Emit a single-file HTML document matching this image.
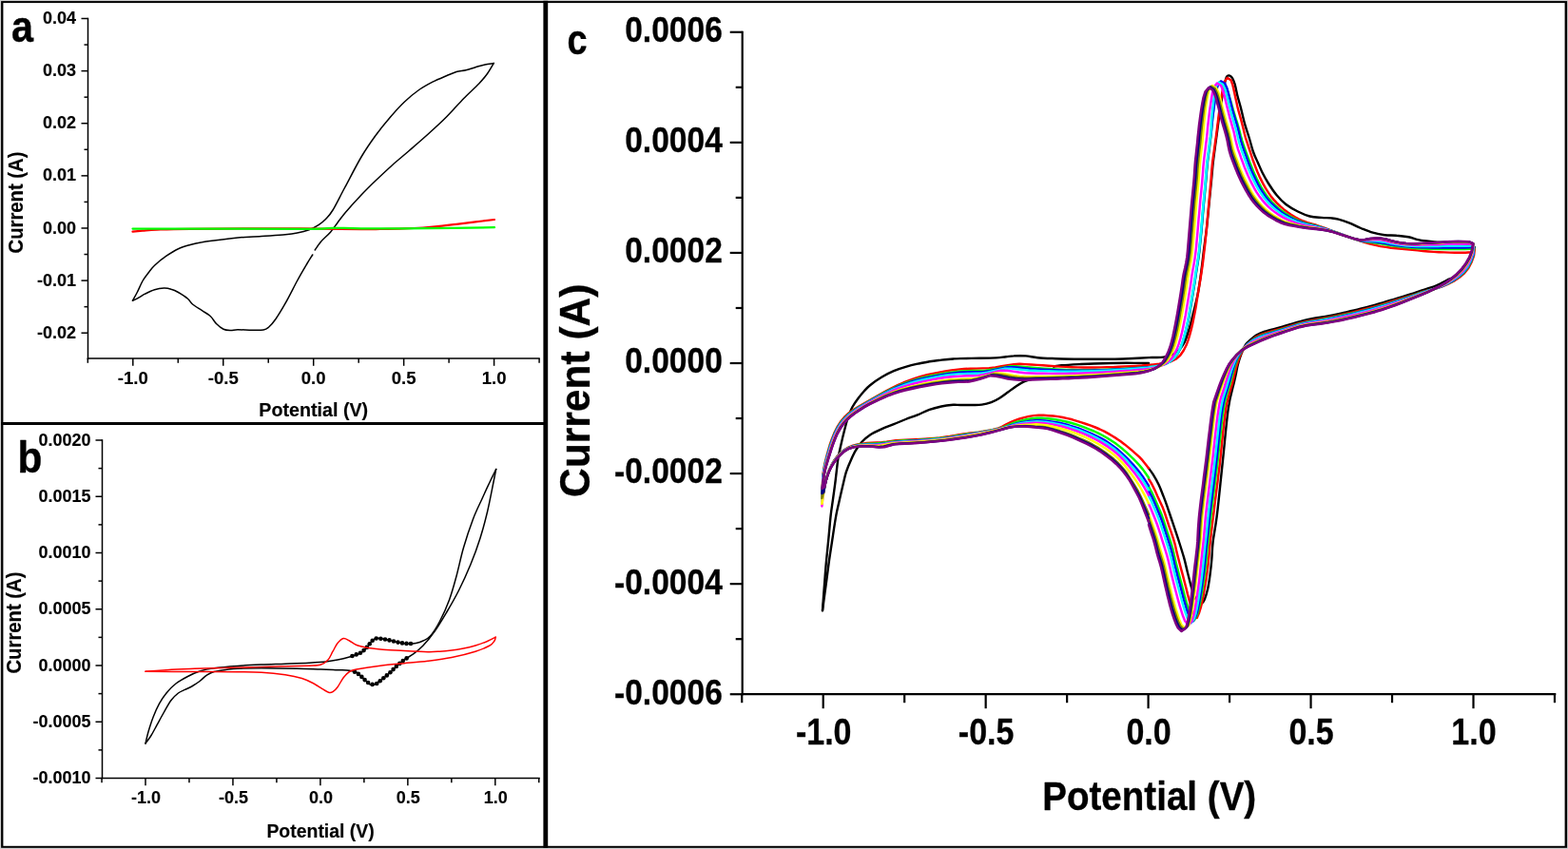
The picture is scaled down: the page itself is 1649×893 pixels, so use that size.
<!DOCTYPE html>
<html><head><meta charset="utf-8"><title>Cyclic voltammograms</title>
<style>
html,body{margin:0;padding:0;background:#fff;}
body{width:1649px;height:893px;overflow:hidden;}
svg{display:block;}
text{fill:#000;}
</style></head><body>
<svg width="1649" height="893" viewBox="0 0 1649 893">
<rect x="0" y="0" width="1649" height="893" fill="#fff"/>
<rect x="0.00" y="0.00" width="1649.00" height="893.00" fill="#cfcfcf"/>
<rect x="1.10" y="1.10" width="1647.00" height="890.70" fill="#000"/>
<rect x="3.40" y="3.10" width="1642.20" height="886.70" fill="#fff"/>
<rect x="571.40" y="0.80" width="4.80" height="891.00" fill="#000"/>
<rect x="1.10" y="444.00" width="572.00" height="3.00" fill="#000"/>
<line x1="92.50" y1="18.75" x2="92.50" y2="377.75" stroke="#000" stroke-width="1.5"/>
<line x1="91.75" y1="377.00" x2="567.75" y2="377.00" stroke="#000" stroke-width="1.5"/>
<line x1="85.50" y1="19.50" x2="92.50" y2="19.50" stroke="#000" stroke-width="1.5"/>
<line x1="88.50" y1="47.06" x2="92.50" y2="47.06" stroke="#000" stroke-width="1.5"/>
<line x1="85.50" y1="74.62" x2="92.50" y2="74.62" stroke="#000" stroke-width="1.5"/>
<line x1="88.50" y1="102.18" x2="92.50" y2="102.18" stroke="#000" stroke-width="1.5"/>
<line x1="85.50" y1="129.74" x2="92.50" y2="129.74" stroke="#000" stroke-width="1.5"/>
<line x1="88.50" y1="157.30" x2="92.50" y2="157.30" stroke="#000" stroke-width="1.5"/>
<line x1="85.50" y1="184.86" x2="92.50" y2="184.86" stroke="#000" stroke-width="1.5"/>
<line x1="88.50" y1="212.42" x2="92.50" y2="212.42" stroke="#000" stroke-width="1.5"/>
<line x1="85.50" y1="239.98" x2="92.50" y2="239.98" stroke="#000" stroke-width="1.5"/>
<line x1="88.50" y1="267.54" x2="92.50" y2="267.54" stroke="#000" stroke-width="1.5"/>
<line x1="85.50" y1="295.10" x2="92.50" y2="295.10" stroke="#000" stroke-width="1.5"/>
<line x1="88.50" y1="322.66" x2="92.50" y2="322.66" stroke="#000" stroke-width="1.5"/>
<line x1="85.50" y1="350.22" x2="92.50" y2="350.22" stroke="#000" stroke-width="1.5"/>
<line x1="139.80" y1="377.00" x2="139.80" y2="384.80" stroke="#000" stroke-width="1.5"/>
<line x1="234.75" y1="377.00" x2="234.75" y2="384.80" stroke="#000" stroke-width="1.5"/>
<line x1="329.70" y1="377.00" x2="329.70" y2="384.80" stroke="#000" stroke-width="1.5"/>
<line x1="424.65" y1="377.00" x2="424.65" y2="384.80" stroke="#000" stroke-width="1.5"/>
<line x1="519.60" y1="377.00" x2="519.60" y2="384.80" stroke="#000" stroke-width="1.5"/>
<line x1="92.33" y1="377.00" x2="92.33" y2="381.80" stroke="#000" stroke-width="1.5"/>
<line x1="187.28" y1="377.00" x2="187.28" y2="381.80" stroke="#000" stroke-width="1.5"/>
<line x1="282.23" y1="377.00" x2="282.23" y2="381.80" stroke="#000" stroke-width="1.5"/>
<line x1="377.18" y1="377.00" x2="377.18" y2="381.80" stroke="#000" stroke-width="1.5"/>
<line x1="472.12" y1="377.00" x2="472.12" y2="381.80" stroke="#000" stroke-width="1.5"/>
<line x1="567.08" y1="377.00" x2="567.08" y2="381.80" stroke="#000" stroke-width="1.5"/>
<text transform="translate(80.00 25.10)" font-size="18" font-weight="bold" text-anchor="end" stroke="#000" stroke-width="0.14" stroke-linejoin="round" style="font-family:'Liberation Sans', sans-serif">0.04</text>
<text transform="translate(80.00 80.22)" font-size="18" font-weight="bold" text-anchor="end" stroke="#000" stroke-width="0.14" stroke-linejoin="round" style="font-family:'Liberation Sans', sans-serif">0.03</text>
<text transform="translate(80.00 135.34)" font-size="18" font-weight="bold" text-anchor="end" stroke="#000" stroke-width="0.14" stroke-linejoin="round" style="font-family:'Liberation Sans', sans-serif">0.02</text>
<text transform="translate(80.00 190.46)" font-size="18" font-weight="bold" text-anchor="end" stroke="#000" stroke-width="0.14" stroke-linejoin="round" style="font-family:'Liberation Sans', sans-serif">0.01</text>
<text transform="translate(80.00 245.58)" font-size="18" font-weight="bold" text-anchor="end" stroke="#000" stroke-width="0.14" stroke-linejoin="round" style="font-family:'Liberation Sans', sans-serif">0.00</text>
<text transform="translate(80.00 300.70)" font-size="18" font-weight="bold" text-anchor="end" stroke="#000" stroke-width="0.14" stroke-linejoin="round" style="font-family:'Liberation Sans', sans-serif">-0.01</text>
<text transform="translate(80.00 355.82)" font-size="18" font-weight="bold" text-anchor="end" stroke="#000" stroke-width="0.14" stroke-linejoin="round" style="font-family:'Liberation Sans', sans-serif">-0.02</text>
<text transform="translate(139.80 404.00) scale(1.03 1.0)" font-size="18" font-weight="bold" text-anchor="middle" stroke="#000" stroke-width="0.14" stroke-linejoin="round" style="font-family:'Liberation Sans', sans-serif">-1.0</text>
<text transform="translate(234.75 404.00) scale(1.03 1.0)" font-size="18" font-weight="bold" text-anchor="middle" stroke="#000" stroke-width="0.14" stroke-linejoin="round" style="font-family:'Liberation Sans', sans-serif">-0.5</text>
<text transform="translate(329.70 404.00) scale(1.03 1.0)" font-size="18" font-weight="bold" text-anchor="middle" stroke="#000" stroke-width="0.14" stroke-linejoin="round" style="font-family:'Liberation Sans', sans-serif">0.0</text>
<text transform="translate(424.65 404.00) scale(1.03 1.0)" font-size="18" font-weight="bold" text-anchor="middle" stroke="#000" stroke-width="0.14" stroke-linejoin="round" style="font-family:'Liberation Sans', sans-serif">0.5</text>
<text transform="translate(519.60 404.00) scale(1.03 1.0)" font-size="18" font-weight="bold" text-anchor="middle" stroke="#000" stroke-width="0.14" stroke-linejoin="round" style="font-family:'Liberation Sans', sans-serif">1.0</text>
<text transform="translate(329.70 438.00)" font-size="19.7" font-weight="bold" text-anchor="middle" stroke="#000" stroke-width="0.16" stroke-linejoin="round" style="font-family:'Liberation Sans', sans-serif">Potential (V)</text>
<text transform="translate(24.30 213.00) rotate(-90) scale(1.03 1.13)" font-size="19.7" font-weight="bold" text-anchor="middle" stroke="#000" stroke-width="0.16" stroke-linejoin="round" style="font-family:'Liberation Sans', sans-serif">Current (A)</text>
<text transform="translate(23.60 43.70) scale(0.88 1.0)" font-size="47" font-weight="bold" text-anchor="middle" stroke="#000" stroke-width="0.38" stroke-linejoin="round" style="font-family:'Liberation Sans', sans-serif">a</text>
<path d="M139.5 316.2C140.2 314.8 142.2 311.4 144.0 308.0C145.8 304.6 148.0 299.0 150.0 295.5C152.0 292.0 153.9 289.7 156.0 287.0C158.1 284.3 159.3 282.2 162.5 279.2C165.7 276.2 170.8 272.1 175.0 269.2C179.2 266.3 183.3 263.6 187.5 261.7C191.7 259.8 195.8 258.7 200.0 257.5C204.2 256.3 208.3 255.4 212.5 254.7C216.7 253.9 220.8 253.5 225.0 253.0C229.2 252.5 233.3 252.0 237.5 251.5C241.7 251.0 243.8 250.5 250.0 250.0C256.2 249.5 266.7 249.1 275.0 248.5C283.3 247.9 293.8 247.3 300.0 246.7C306.2 246.1 308.3 245.8 312.5 245.0C316.7 244.2 321.2 243.1 325.0 241.7C328.8 240.3 332.1 238.6 335.0 236.7C337.9 234.8 340.0 233.1 342.5 230.5C345.0 227.9 346.7 226.5 350.0 221.0C353.3 215.5 357.5 206.8 362.5 197.5C367.5 188.2 374.6 174.2 380.0 165.0C385.4 155.8 390.0 149.4 395.0 142.5C400.0 135.6 405.0 129.5 410.0 123.7C415.0 117.9 420.0 112.3 425.0 107.5C430.0 102.7 435.0 98.5 440.0 95.0C445.0 91.5 450.0 88.8 455.0 86.2C460.0 83.6 465.8 81.3 470.0 79.5C474.2 77.7 476.7 76.5 480.0 75.5C483.3 74.5 486.7 74.5 490.0 73.7C493.3 72.9 496.7 71.7 500.0 70.7C503.3 69.8 506.8 68.7 510.0 68.0C513.2 67.3 517.7 66.8 519.2 66.5" stroke="#000" stroke-width="1.5" fill="none" stroke-linejoin="round" stroke-linecap="round" />
<path d="M519.2 66.5C518.1 68.3 515.1 73.9 512.5 77.5C509.9 81.1 507.9 83.6 503.7 88.0C499.5 92.4 493.1 98.0 487.5 103.7C481.9 109.5 476.2 116.2 470.0 122.5C463.8 128.8 456.7 135.2 450.0 141.2C443.3 147.2 436.2 153.3 430.0 158.7C423.8 164.1 418.3 168.5 412.5 173.7C406.7 178.9 400.4 184.8 395.0 190.0C389.6 195.2 385.2 199.5 380.0 205.0C374.8 210.5 367.9 218.1 363.7 223.0C359.5 227.9 357.7 230.7 355.0 234.2C352.3 237.7 350.4 240.9 347.5 244.2C344.6 247.5 340.2 251.1 337.5 254.2C334.8 257.3 332.2 261.5 331.2 263.0" stroke="#000" stroke-width="1.5" fill="none" stroke-linejoin="round" stroke-linecap="round" />
<path d="M328.7 268.0C327.7 269.7 325.2 273.4 322.5 278.0C319.8 282.6 316.2 288.6 312.5 295.5C308.8 302.4 303.8 312.5 300.0 319.2C296.2 325.9 292.9 331.3 290.0 335.5C287.1 339.7 284.7 342.3 282.5 344.2C280.3 346.1 279.9 346.5 277.0 347.0C274.1 347.5 269.5 347.4 265.0 347.3C260.5 347.2 253.8 346.7 250.0 346.7C246.2 346.7 245.0 347.6 242.5 347.5C240.0 347.4 237.5 347.4 235.0 346.2C232.5 345.0 229.8 342.8 227.5 340.5C225.2 338.2 223.7 334.8 221.2 332.5C218.7 330.2 215.6 328.8 212.5 326.7C209.4 324.6 205.0 322.1 202.5 320.0C200.0 317.9 200.0 316.3 197.5 314.2C195.0 312.1 190.4 309.2 187.5 307.5C184.6 305.8 182.5 304.9 180.0 304.2C177.5 303.4 175.4 302.9 172.5 303.0C169.6 303.1 165.8 303.7 162.5 304.7C159.2 305.7 155.4 307.7 152.5 309.2C149.6 310.7 147.2 312.5 145.0 313.7C142.8 314.9 140.4 315.8 139.5 316.2" stroke="#000" stroke-width="1.5" fill="none" stroke-linejoin="round" stroke-linecap="round" />
<path d="M139.5 243.6C141.2 243.4 145.8 242.9 150.0 242.6C154.2 242.3 156.7 241.9 165.0 241.6C173.3 241.3 177.5 241.0 200.0 240.8C222.5 240.6 270.0 240.2 300.0 240.3C330.0 240.4 363.3 241.1 380.0 241.2C396.7 241.3 392.5 241.1 400.0 241.0C407.5 240.9 417.5 240.7 425.0 240.4C432.5 240.2 439.2 239.9 445.0 239.5C450.8 239.1 454.2 238.8 460.0 238.2C465.8 237.6 473.3 236.6 480.0 235.8C486.7 235.0 493.3 234.2 500.0 233.4C506.7 232.6 516.7 231.4 520.0 231.0" stroke="#f00" stroke-width="2.2" fill="none" stroke-linejoin="round" stroke-linecap="round" />
<path d="M139.5 240.6C157.9 240.6 218.2 240.6 250.0 240.6C281.8 240.6 313.3 240.9 330.0 240.8C346.7 240.7 341.7 239.9 350.0 239.8C358.3 239.7 363.3 240.2 380.0 240.3C396.7 240.4 426.7 240.4 450.0 240.2C473.3 240.0 508.3 239.4 520.0 239.2" stroke="#0f0" stroke-width="2.2" fill="none" stroke-linejoin="round" stroke-linecap="round" />
<line x1="107.50" y1="462.25" x2="107.50" y2="819.25" stroke="#000" stroke-width="1.5"/>
<line x1="106.75" y1="818.50" x2="567.75" y2="818.50" stroke="#000" stroke-width="1.5"/>
<line x1="100.50" y1="463.00" x2="107.50" y2="463.00" stroke="#000" stroke-width="1.5"/>
<line x1="103.50" y1="492.62" x2="107.50" y2="492.62" stroke="#000" stroke-width="1.5"/>
<line x1="100.50" y1="522.25" x2="107.50" y2="522.25" stroke="#000" stroke-width="1.5"/>
<line x1="103.50" y1="551.88" x2="107.50" y2="551.88" stroke="#000" stroke-width="1.5"/>
<line x1="100.50" y1="581.50" x2="107.50" y2="581.50" stroke="#000" stroke-width="1.5"/>
<line x1="103.50" y1="611.12" x2="107.50" y2="611.12" stroke="#000" stroke-width="1.5"/>
<line x1="100.50" y1="640.75" x2="107.50" y2="640.75" stroke="#000" stroke-width="1.5"/>
<line x1="103.50" y1="670.38" x2="107.50" y2="670.38" stroke="#000" stroke-width="1.5"/>
<line x1="100.50" y1="700.00" x2="107.50" y2="700.00" stroke="#000" stroke-width="1.5"/>
<line x1="103.50" y1="729.62" x2="107.50" y2="729.62" stroke="#000" stroke-width="1.5"/>
<line x1="100.50" y1="759.25" x2="107.50" y2="759.25" stroke="#000" stroke-width="1.5"/>
<line x1="103.50" y1="788.88" x2="107.50" y2="788.88" stroke="#000" stroke-width="1.5"/>
<line x1="100.50" y1="818.50" x2="107.50" y2="818.50" stroke="#000" stroke-width="1.5"/>
<line x1="153.00" y1="818.50" x2="153.00" y2="826.30" stroke="#000" stroke-width="1.5"/>
<line x1="244.95" y1="818.50" x2="244.95" y2="826.30" stroke="#000" stroke-width="1.5"/>
<line x1="336.90" y1="818.50" x2="336.90" y2="826.30" stroke="#000" stroke-width="1.5"/>
<line x1="428.85" y1="818.50" x2="428.85" y2="826.30" stroke="#000" stroke-width="1.5"/>
<line x1="520.80" y1="818.50" x2="520.80" y2="826.30" stroke="#000" stroke-width="1.5"/>
<line x1="107.03" y1="818.50" x2="107.03" y2="823.30" stroke="#000" stroke-width="1.5"/>
<line x1="198.97" y1="818.50" x2="198.97" y2="823.30" stroke="#000" stroke-width="1.5"/>
<line x1="290.92" y1="818.50" x2="290.92" y2="823.30" stroke="#000" stroke-width="1.5"/>
<line x1="382.88" y1="818.50" x2="382.88" y2="823.30" stroke="#000" stroke-width="1.5"/>
<line x1="474.83" y1="818.50" x2="474.83" y2="823.30" stroke="#000" stroke-width="1.5"/>
<line x1="566.77" y1="818.50" x2="566.77" y2="823.30" stroke="#000" stroke-width="1.5"/>
<text transform="translate(95.50 468.60)" font-size="18" font-weight="bold" text-anchor="end" stroke="#000" stroke-width="0.14" stroke-linejoin="round" style="font-family:'Liberation Sans', sans-serif">0.0020</text>
<text transform="translate(95.50 527.85)" font-size="18" font-weight="bold" text-anchor="end" stroke="#000" stroke-width="0.14" stroke-linejoin="round" style="font-family:'Liberation Sans', sans-serif">0.0015</text>
<text transform="translate(95.50 587.10)" font-size="18" font-weight="bold" text-anchor="end" stroke="#000" stroke-width="0.14" stroke-linejoin="round" style="font-family:'Liberation Sans', sans-serif">0.0010</text>
<text transform="translate(95.50 646.35)" font-size="18" font-weight="bold" text-anchor="end" stroke="#000" stroke-width="0.14" stroke-linejoin="round" style="font-family:'Liberation Sans', sans-serif">0.0005</text>
<text transform="translate(95.50 705.60)" font-size="18" font-weight="bold" text-anchor="end" stroke="#000" stroke-width="0.14" stroke-linejoin="round" style="font-family:'Liberation Sans', sans-serif">0.0000</text>
<text transform="translate(95.50 764.85)" font-size="18" font-weight="bold" text-anchor="end" stroke="#000" stroke-width="0.14" stroke-linejoin="round" style="font-family:'Liberation Sans', sans-serif">-0.0005</text>
<text transform="translate(95.50 824.10)" font-size="18" font-weight="bold" text-anchor="end" stroke="#000" stroke-width="0.14" stroke-linejoin="round" style="font-family:'Liberation Sans', sans-serif">-0.0010</text>
<text transform="translate(153.50 845.00)" font-size="18" font-weight="bold" text-anchor="middle" stroke="#000" stroke-width="0.14" stroke-linejoin="round" style="font-family:'Liberation Sans', sans-serif">-1.0</text>
<text transform="translate(245.45 845.00)" font-size="18" font-weight="bold" text-anchor="middle" stroke="#000" stroke-width="0.14" stroke-linejoin="round" style="font-family:'Liberation Sans', sans-serif">-0.5</text>
<text transform="translate(337.40 845.00)" font-size="18" font-weight="bold" text-anchor="middle" stroke="#000" stroke-width="0.14" stroke-linejoin="round" style="font-family:'Liberation Sans', sans-serif">0.0</text>
<text transform="translate(429.35 845.00)" font-size="18" font-weight="bold" text-anchor="middle" stroke="#000" stroke-width="0.14" stroke-linejoin="round" style="font-family:'Liberation Sans', sans-serif">0.5</text>
<text transform="translate(521.30 845.00)" font-size="18" font-weight="bold" text-anchor="middle" stroke="#000" stroke-width="0.14" stroke-linejoin="round" style="font-family:'Liberation Sans', sans-serif">1.0</text>
<text transform="translate(337.10 881.30) scale(0.987 1.0)" font-size="19.7" font-weight="bold" text-anchor="middle" stroke="#000" stroke-width="0.16" stroke-linejoin="round" style="font-family:'Liberation Sans', sans-serif">Potential (V)</text>
<text transform="translate(21.80 655.00) rotate(-90) scale(1.03 1.1)" font-size="19.7" font-weight="bold" text-anchor="middle" stroke="#000" stroke-width="0.16" stroke-linejoin="round" style="font-family:'Liberation Sans', sans-serif">Current (A)</text>
<text transform="translate(31.30 497.00) scale(0.9 1.0)" font-size="47" font-weight="bold" text-anchor="middle" stroke="#000" stroke-width="0.38" stroke-linejoin="round" style="font-family:'Liberation Sans', sans-serif">b</text>
<path d="M153.0 782.0C153.5 779.8 154.8 773.7 156.2 769.0C157.6 764.3 159.3 758.8 161.2 754.0C163.1 749.2 165.2 744.4 167.5 740.2C169.8 736.0 172.1 732.5 175.0 729.0C177.9 725.5 181.2 721.9 185.0 719.0C188.8 716.1 193.3 713.7 197.5 711.5C201.7 709.3 205.4 707.5 210.0 706.0C214.6 704.5 218.3 703.6 225.0 702.7C231.7 701.8 241.7 701.0 250.0 700.4C258.3 699.8 266.7 699.4 275.0 699.0C283.3 698.6 291.7 698.5 300.0 698.2C308.3 697.9 317.9 697.6 325.0 697.2C332.1 696.8 337.5 696.5 342.5 696.0C347.5 695.5 350.8 694.8 355.0 694.0C359.2 693.2 363.3 692.2 367.5 691.0C371.7 689.8 376.9 688.2 380.0 686.5C383.1 684.8 384.3 682.7 386.2 680.6C388.1 678.5 389.5 675.6 391.2 674.0C392.9 672.4 394.3 671.5 396.2 671.2C398.1 670.9 400.2 671.6 402.5 672.0C404.8 672.4 407.1 672.8 410.0 673.5C412.9 674.2 416.7 675.4 420.0 676.0C423.3 676.6 427.1 677.1 430.0 677.2C432.9 677.3 435.0 677.0 437.5 676.5C440.0 676.0 442.5 675.2 445.0 674.0C447.5 672.8 449.6 672.4 452.5 669.0C455.4 665.6 459.2 659.8 462.5 653.5C465.8 647.2 469.6 638.9 472.5 631.0C475.4 623.1 477.5 615.2 480.0 606.0C482.5 596.8 484.6 586.0 487.5 576.0C490.4 566.0 494.2 554.8 497.5 546.0C500.8 537.2 504.6 530.0 507.5 523.5C510.4 517.0 512.6 512.2 515.0 507.2C517.4 502.2 520.6 495.8 521.7 493.5" stroke="#000" stroke-width="1.5" fill="none" stroke-linejoin="round" stroke-linecap="round" />
<path d="M521.7 493.5C521.2 496.0 520.2 501.0 518.7 508.5C517.2 516.0 514.8 528.9 512.5 538.5C510.2 548.1 507.9 556.8 505.0 566.0C502.1 575.2 498.8 584.3 495.0 593.5C491.2 602.7 486.7 612.7 482.5 621.0C478.3 629.3 474.2 636.4 470.0 643.5C465.8 650.6 461.7 657.6 457.5 663.5C453.3 669.4 448.8 675.0 445.0 679.0C441.2 683.0 438.3 685.2 435.0 687.7C431.7 690.2 427.9 691.9 425.0 694.0C422.1 696.1 420.0 697.9 417.5 700.2C415.0 702.5 412.5 705.4 410.0 707.7C407.5 710.0 404.8 712.1 402.5 714.0C400.2 715.9 398.3 718.0 396.2 719.0C394.1 720.0 391.9 720.6 390.0 720.2C388.1 719.8 386.7 718.0 385.0 716.5C383.3 715.0 381.7 713.0 380.0 711.5C378.3 710.0 377.1 708.2 375.0 707.2C372.9 706.2 370.8 705.6 367.5 705.2C364.2 704.8 360.0 704.9 355.0 704.7C350.0 704.5 344.6 704.2 337.5 704.0C330.4 703.8 322.9 703.4 312.5 703.2C302.1 703.0 285.4 702.7 275.0 702.7C264.6 702.7 256.2 702.9 250.0 703.2C243.8 703.5 241.7 704.0 237.5 704.5C233.3 705.0 228.3 705.5 225.0 706.5C221.7 707.5 220.0 708.5 217.5 710.2C215.0 711.9 212.5 714.6 210.0 716.5C207.5 718.4 205.0 720.0 202.5 721.5C200.0 723.0 197.5 724.0 195.0 725.2C192.5 726.5 190.0 727.1 187.5 729.0C185.0 730.9 182.5 733.2 180.0 736.5C177.5 739.8 175.0 744.6 172.5 749.0C170.0 753.4 167.3 758.5 165.0 762.7C162.7 766.9 160.7 770.8 158.7 774.0C156.7 777.2 153.9 780.7 153.0 782.0" stroke="#000" stroke-width="1.5" fill="none" stroke-linejoin="round" stroke-linecap="round" />
<circle cx="370.4" cy="690.0" r="2.3" fill="#000"/>
<circle cx="374.7" cy="688.4" r="2.3" fill="#000"/>
<circle cx="379.0" cy="686.8" r="2.3" fill="#000"/>
<circle cx="382.6" cy="684.1" r="2.3" fill="#000"/>
<circle cx="385.8" cy="680.9" r="2.3" fill="#000"/>
<circle cx="388.7" cy="677.3" r="2.3" fill="#000"/>
<circle cx="391.7" cy="673.7" r="2.3" fill="#000"/>
<circle cx="395.7" cy="671.5" r="2.3" fill="#000"/>
<circle cx="400.4" cy="671.7" r="2.3" fill="#000"/>
<circle cx="405.0" cy="672.5" r="2.3" fill="#000"/>
<circle cx="409.5" cy="673.4" r="2.3" fill="#000"/>
<circle cx="414.0" cy="674.5" r="2.3" fill="#000"/>
<circle cx="418.5" cy="675.6" r="2.3" fill="#000"/>
<circle cx="423.0" cy="676.4" r="2.3" fill="#000"/>
<circle cx="427.5" cy="676.9" r="2.3" fill="#000"/>
<circle cx="432.0" cy="677.0" r="2.3" fill="#000"/>
<circle cx="427.6" cy="692.4" r="2.3" fill="#000"/>
<circle cx="423.8" cy="695.0" r="2.3" fill="#000"/>
<circle cx="420.3" cy="697.9" r="2.3" fill="#000"/>
<circle cx="416.8" cy="700.9" r="2.3" fill="#000"/>
<circle cx="413.6" cy="704.1" r="2.3" fill="#000"/>
<circle cx="410.4" cy="707.3" r="2.3" fill="#000"/>
<circle cx="406.8" cy="710.4" r="2.3" fill="#000"/>
<circle cx="403.3" cy="713.3" r="2.3" fill="#000"/>
<circle cx="399.7" cy="716.2" r="2.3" fill="#000"/>
<circle cx="396.2" cy="719.0" r="2.3" fill="#000"/>
<circle cx="391.6" cy="719.9" r="2.3" fill="#000"/>
<circle cx="387.1" cy="718.0" r="2.3" fill="#000"/>
<circle cx="383.6" cy="715.1" r="2.3" fill="#000"/>
<circle cx="380.4" cy="711.9" r="2.3" fill="#000"/>
<circle cx="376.9" cy="708.9" r="2.3" fill="#000"/>
<circle cx="373.0" cy="706.7" r="2.3" fill="#000"/>
<path d="M153.0 706.3C156.7 706.0 167.2 705.2 175.0 704.7C182.8 704.2 191.7 703.8 200.0 703.5C208.3 703.2 212.5 703.0 225.0 702.7C237.5 702.4 258.3 701.9 275.0 701.5C291.7 701.1 314.6 700.6 325.0 700.2C335.4 699.8 334.2 700.0 337.5 699.0C340.8 698.0 342.9 696.3 345.0 694.0C347.1 691.7 348.3 688.1 350.0 685.2C351.7 682.3 353.1 678.8 355.0 676.5C356.9 674.2 359.1 671.9 361.2 671.5C363.3 671.1 365.2 672.8 367.5 674.0C369.8 675.2 371.7 677.2 375.0 678.5C378.3 679.8 383.3 680.8 387.5 681.5C391.7 682.2 393.8 682.5 400.0 683.0C406.2 683.5 416.7 684.0 425.0 684.5C433.3 685.0 443.8 685.6 450.0 685.7C456.2 685.8 458.3 685.5 462.5 685.2C466.7 684.9 470.8 684.5 475.0 684.0C479.2 683.5 483.3 682.8 487.5 682.0C491.7 681.2 495.8 680.2 500.0 679.0C504.2 677.8 509.0 676.0 512.5 674.5C516.0 673.0 519.8 670.9 521.2 670.2" stroke="#f00" stroke-width="1.5" fill="none" stroke-linejoin="round" stroke-linecap="round" />
<path d="M521.2 670.2C521.0 670.8 521.0 672.5 520.0 674.0C519.0 675.5 518.3 677.1 515.0 679.0C511.7 680.9 506.7 683.1 500.0 685.2C493.3 687.3 483.3 689.8 475.0 691.5C466.7 693.2 458.3 694.2 450.0 695.2C441.7 696.2 433.3 696.9 425.0 697.7C416.7 698.5 408.3 699.2 400.0 700.2C391.7 701.2 380.4 703.0 375.0 704.0C369.6 705.0 369.8 705.0 367.5 706.5C365.2 708.0 363.3 710.0 361.2 712.7C359.1 715.4 356.9 720.2 355.0 722.7C353.1 725.2 351.5 726.7 350.0 727.7C348.5 728.7 347.9 728.9 346.2 728.5C344.5 728.1 342.7 726.8 340.0 725.2C337.3 723.6 333.8 721.0 330.0 719.0C326.2 717.0 322.5 715.0 317.5 713.5C312.5 712.0 307.1 710.8 300.0 709.7C292.9 708.7 283.3 707.7 275.0 707.2C266.7 706.7 262.5 706.8 250.0 706.7C237.5 706.6 216.2 706.6 200.0 706.5C183.8 706.4 160.8 706.3 153.0 706.3" stroke="#f00" stroke-width="1.5" fill="none" stroke-linejoin="round" stroke-linecap="round" />
<line x1="780.70" y1="32.70" x2="780.70" y2="731.30" stroke="#000" stroke-width="2.2"/>
<line x1="779.60" y1="730.20" x2="1636.30" y2="730.20" stroke="#000" stroke-width="2.2"/>
<line x1="767.70" y1="33.80" x2="780.70" y2="33.80" stroke="#000" stroke-width="2.2"/>
<line x1="773.70" y1="91.84" x2="780.70" y2="91.84" stroke="#000" stroke-width="2.2"/>
<line x1="767.70" y1="149.87" x2="780.70" y2="149.87" stroke="#000" stroke-width="2.2"/>
<line x1="773.70" y1="207.91" x2="780.70" y2="207.91" stroke="#000" stroke-width="2.2"/>
<line x1="767.70" y1="265.94" x2="780.70" y2="265.94" stroke="#000" stroke-width="2.2"/>
<line x1="773.70" y1="323.98" x2="780.70" y2="323.98" stroke="#000" stroke-width="2.2"/>
<line x1="767.70" y1="382.01" x2="780.70" y2="382.01" stroke="#000" stroke-width="2.2"/>
<line x1="773.70" y1="440.04" x2="780.70" y2="440.04" stroke="#000" stroke-width="2.2"/>
<line x1="767.70" y1="498.08" x2="780.70" y2="498.08" stroke="#000" stroke-width="2.2"/>
<line x1="773.70" y1="556.11" x2="780.70" y2="556.11" stroke="#000" stroke-width="2.2"/>
<line x1="767.70" y1="614.15" x2="780.70" y2="614.15" stroke="#000" stroke-width="2.2"/>
<line x1="773.70" y1="672.18" x2="780.70" y2="672.18" stroke="#000" stroke-width="2.2"/>
<line x1="767.70" y1="730.22" x2="780.70" y2="730.22" stroke="#000" stroke-width="2.2"/>
<line x1="865.70" y1="730.20" x2="865.70" y2="745.20" stroke="#000" stroke-width="2.2"/>
<line x1="1036.65" y1="730.20" x2="1036.65" y2="745.20" stroke="#000" stroke-width="2.2"/>
<line x1="1207.60" y1="730.20" x2="1207.60" y2="745.20" stroke="#000" stroke-width="2.2"/>
<line x1="1378.55" y1="730.20" x2="1378.55" y2="745.20" stroke="#000" stroke-width="2.2"/>
<line x1="1549.50" y1="730.20" x2="1549.50" y2="745.20" stroke="#000" stroke-width="2.2"/>
<line x1="780.23" y1="730.20" x2="780.23" y2="739.20" stroke="#000" stroke-width="2.2"/>
<line x1="951.18" y1="730.20" x2="951.18" y2="739.20" stroke="#000" stroke-width="2.2"/>
<line x1="1122.12" y1="730.20" x2="1122.12" y2="739.20" stroke="#000" stroke-width="2.2"/>
<line x1="1293.07" y1="730.20" x2="1293.07" y2="739.20" stroke="#000" stroke-width="2.2"/>
<line x1="1464.03" y1="730.20" x2="1464.03" y2="739.20" stroke="#000" stroke-width="2.2"/>
<line x1="1634.97" y1="730.20" x2="1634.97" y2="739.20" stroke="#000" stroke-width="2.2"/>
<text transform="translate(759.80 44.20) scale(0.907 1.0)" font-size="37" font-weight="bold" text-anchor="end" stroke="#000" stroke-width="0.3" stroke-linejoin="round" style="font-family:'Liberation Sans', sans-serif">0.0006</text>
<text transform="translate(759.80 160.27) scale(0.907 1.0)" font-size="37" font-weight="bold" text-anchor="end" stroke="#000" stroke-width="0.3" stroke-linejoin="round" style="font-family:'Liberation Sans', sans-serif">0.0004</text>
<text transform="translate(759.80 276.34) scale(0.907 1.0)" font-size="37" font-weight="bold" text-anchor="end" stroke="#000" stroke-width="0.3" stroke-linejoin="round" style="font-family:'Liberation Sans', sans-serif">0.0002</text>
<text transform="translate(759.80 392.41) scale(0.907 1.0)" font-size="37" font-weight="bold" text-anchor="end" stroke="#000" stroke-width="0.3" stroke-linejoin="round" style="font-family:'Liberation Sans', sans-serif">0.0000</text>
<text transform="translate(759.80 508.48) scale(0.907 1.0)" font-size="37" font-weight="bold" text-anchor="end" stroke="#000" stroke-width="0.3" stroke-linejoin="round" style="font-family:'Liberation Sans', sans-serif">-0.0002</text>
<text transform="translate(759.80 624.55) scale(0.907 1.0)" font-size="37" font-weight="bold" text-anchor="end" stroke="#000" stroke-width="0.3" stroke-linejoin="round" style="font-family:'Liberation Sans', sans-serif">-0.0004</text>
<text transform="translate(759.80 740.62) scale(0.907 1.0)" font-size="37" font-weight="bold" text-anchor="end" stroke="#000" stroke-width="0.3" stroke-linejoin="round" style="font-family:'Liberation Sans', sans-serif">-0.0006</text>
<text transform="translate(866.20 782.70) scale(0.884 1.0)" font-size="38.5" font-weight="bold" text-anchor="middle" stroke="#000" stroke-width="0.31" stroke-linejoin="round" style="font-family:'Liberation Sans', sans-serif">-1.0</text>
<text transform="translate(1037.15 782.70) scale(0.884 1.0)" font-size="38.5" font-weight="bold" text-anchor="middle" stroke="#000" stroke-width="0.31" stroke-linejoin="round" style="font-family:'Liberation Sans', sans-serif">-0.5</text>
<text transform="translate(1208.10 782.70) scale(0.884 1.0)" font-size="38.5" font-weight="bold" text-anchor="middle" stroke="#000" stroke-width="0.31" stroke-linejoin="round" style="font-family:'Liberation Sans', sans-serif">0.0</text>
<text transform="translate(1379.05 782.70) scale(0.884 1.0)" font-size="38.5" font-weight="bold" text-anchor="middle" stroke="#000" stroke-width="0.31" stroke-linejoin="round" style="font-family:'Liberation Sans', sans-serif">0.5</text>
<text transform="translate(1550.00 782.70) scale(0.884 1.0)" font-size="38.5" font-weight="bold" text-anchor="middle" stroke="#000" stroke-width="0.31" stroke-linejoin="round" style="font-family:'Liberation Sans', sans-serif">1.0</text>
<text transform="translate(1208.70 852.30) scale(0.906 1.0)" font-size="42.6" font-weight="bold" text-anchor="middle" stroke="#000" stroke-width="0.34" stroke-linejoin="round" style="font-family:'Liberation Sans', sans-serif">Potential (V)</text>
<text transform="translate(620.40 410.80) rotate(-90) scale(0.99 1.04)" font-size="43" font-weight="bold" text-anchor="middle" stroke="#000" stroke-width="0.34" stroke-linejoin="round" style="font-family:'Liberation Sans', sans-serif">Current (A)</text>
<text transform="translate(606.90 57.00) scale(0.86 1.0)" font-size="44" font-weight="bold" text-anchor="middle" stroke="#000" stroke-width="0.35" stroke-linejoin="round" style="font-family:'Liberation Sans', sans-serif">c</text>
<path d="M1208.0 382.0C1204.2 382.0 1193.0 381.8 1185.0 381.8C1177.0 381.8 1168.3 382.0 1160.0 382.2C1151.7 382.4 1142.3 382.8 1135.0 383.1C1127.7 383.5 1120.7 383.9 1116.2 384.3C1111.7 384.7 1109.4 385.3 1108.0 385.5" stroke="#000" stroke-width="2.4" fill="none" stroke-linejoin="round" stroke-linecap="round" />
<path d="M1086.0 398.5C1084.6 398.9 1080.4 399.9 1077.5 401.2C1074.6 402.5 1071.6 404.3 1068.7 406.2C1065.8 408.1 1062.9 410.4 1060.0 412.5C1057.1 414.6 1054.1 416.9 1051.2 418.7C1048.3 420.5 1045.6 422.0 1042.5 423.1C1039.4 424.2 1035.8 425.1 1032.5 425.6C1029.2 426.1 1026.2 425.9 1022.5 426.0C1018.8 426.1 1013.3 426.0 1010.0 426.0C1006.7 426.0 1005.8 425.6 1002.5 425.8C999.2 426.1 994.2 426.6 990.0 427.5C985.8 428.4 981.7 429.4 977.5 430.9C973.3 432.4 969.2 434.6 965.0 436.3C960.8 438.0 956.7 439.4 952.5 441.0C948.3 442.6 944.2 444.5 940.0 446.2C935.8 447.9 931.7 449.3 927.5 451.2C923.3 453.1 918.5 455.2 915.0 457.5C911.5 459.8 908.7 462.3 906.2 465.0C903.7 467.7 901.9 470.6 900.0 473.7C898.1 476.8 896.7 479.9 895.0 483.7C893.3 487.4 891.5 491.6 890.0 496.2C888.5 500.8 887.5 506.0 886.2 511.2C885.0 516.4 883.6 522.4 882.5 527.5C881.4 532.6 880.5 535.7 879.4 541.6C878.3 547.5 877.1 555.6 876.0 563.0C874.9 570.4 873.8 577.2 872.5 586.0C871.2 594.8 869.8 606.6 868.5 616.0C867.2 625.4 865.6 637.8 865.0 642.2" stroke="#000" stroke-width="2.4" fill="none" stroke-linejoin="round" stroke-linecap="round" />
<path d="M865.0 642.2C865.3 637.7 866.3 623.7 867.0 615.0C867.7 606.3 868.2 598.3 869.0 590.0C869.8 581.7 870.7 573.1 871.5 565.0C872.3 556.9 872.9 548.5 873.7 541.6C874.5 534.7 875.4 529.8 876.2 523.7C877.0 517.6 877.9 511.7 878.7 505.0C879.5 498.3 880.5 488.9 881.2 483.7C881.9 478.5 882.3 477.6 883.1 473.7C883.9 469.8 885.1 464.8 886.2 460.0C887.4 455.2 889.0 448.8 890.0 445.0C891.0 441.2 891.5 440.2 892.5 437.5C893.5 434.8 894.5 431.6 896.2 428.5C897.9 425.4 900.4 421.8 902.5 419.0C904.6 416.2 906.6 413.8 908.7 411.5C910.8 409.2 911.9 407.7 915.0 405.2C918.1 402.7 923.3 399.0 927.5 396.5C931.7 394.0 935.8 392.0 940.0 390.2C944.2 388.4 948.3 387.1 952.5 385.9C956.7 384.6 960.8 383.6 965.0 382.7C969.2 381.8 973.3 380.9 977.5 380.2C981.7 379.5 985.8 379.1 990.0 378.6C994.2 378.2 999.2 377.8 1002.5 377.5C1005.8 377.2 1005.4 377.2 1010.0 377.1C1014.6 377.0 1023.8 376.9 1030.0 376.8C1036.2 376.7 1042.8 376.6 1047.5 376.4C1052.2 376.1 1054.9 375.6 1058.0 375.3C1061.1 375.0 1062.8 374.5 1066.2 374.4C1069.7 374.2 1074.5 374.1 1078.7 374.4C1082.9 374.7 1086.0 375.7 1091.2 376.2C1096.4 376.7 1102.7 376.9 1110.0 377.2C1117.3 377.4 1124.6 377.6 1135.0 377.7C1145.4 377.8 1162.2 377.8 1172.4 377.7C1182.6 377.6 1189.7 377.1 1196.2 376.8C1202.7 376.5 1206.6 376.2 1211.2 376.0C1215.8 375.8 1220.0 376.2 1223.7 375.6C1227.5 375.0 1231.1 373.6 1233.7 372.5C1236.3 371.4 1237.9 370.2 1239.5 368.7C1241.1 367.2 1242.3 365.6 1243.5 363.7C1244.7 361.8 1245.8 360.0 1246.8 357.5C1247.8 355.0 1248.8 351.8 1249.8 348.7C1250.8 345.6 1251.6 342.6 1252.6 338.7C1253.6 334.8 1254.8 329.8 1256.0 325.0C1257.2 320.2 1258.5 315.0 1259.5 310.0C1260.5 305.0 1261.2 300.0 1262.0 295.0C1262.8 290.0 1263.3 285.3 1264.0 280.0C1264.7 274.7 1265.2 269.7 1266.0 263.0C1266.8 256.3 1268.1 248.0 1269.0 240.0C1269.9 232.0 1270.7 223.3 1271.5 215.0C1272.3 206.7 1273.3 197.2 1274.0 190.0C1274.7 182.8 1275.0 177.6 1275.7 171.5C1276.4 165.4 1277.2 159.8 1278.0 153.7C1278.8 147.6 1279.8 140.6 1280.5 135.0C1281.2 129.4 1281.8 125.2 1282.5 120.0C1283.2 114.8 1284.2 108.7 1285.0 103.7C1285.8 98.7 1286.8 93.5 1287.5 90.0C1288.2 86.5 1288.8 84.2 1289.3 82.5C1289.8 80.8 1290.2 80.5 1290.7 80.0C1291.2 79.5 1291.6 79.4 1292.2 79.4C1292.8 79.4 1293.6 79.7 1294.3 80.2C1295.0 80.7 1295.5 81.1 1296.2 82.5C1296.9 83.9 1297.9 85.8 1298.7 88.7C1299.5 91.6 1300.2 95.8 1301.2 100.0C1302.2 104.2 1303.7 108.5 1305.0 113.7C1306.3 118.9 1307.8 126.0 1309.3 131.2C1310.8 136.4 1312.2 140.2 1313.7 145.0C1315.2 149.8 1316.6 155.8 1318.1 160.0C1319.5 164.2 1320.9 166.5 1322.4 170.0C1324.0 173.5 1325.5 177.4 1327.4 181.2C1329.3 184.9 1331.2 188.5 1333.7 192.5C1336.2 196.5 1339.3 201.2 1342.4 205.0C1345.5 208.8 1348.7 212.1 1352.4 215.0C1356.2 217.9 1360.7 220.4 1364.9 222.5C1369.1 224.6 1373.2 226.4 1377.4 227.5C1381.6 228.6 1386.1 228.6 1389.9 228.9C1393.7 229.2 1397.1 229.1 1400.0 229.4C1402.9 229.7 1404.4 229.8 1407.5 230.6C1410.6 231.4 1414.8 232.7 1418.7 234.3C1422.7 235.9 1427.0 238.3 1431.2 240.0C1435.4 241.7 1439.5 243.5 1443.7 244.7C1447.9 245.9 1452.0 246.7 1456.2 247.2C1460.4 247.7 1464.5 247.3 1468.7 247.7C1472.9 248.0 1477.7 248.6 1481.2 249.3C1484.8 250.0 1486.9 251.1 1490.0 251.8C1493.1 252.5 1495.8 253.0 1500.0 253.5C1504.2 254.0 1509.2 254.6 1515.0 255.0C1520.8 255.4 1529.5 255.6 1535.0 256.0C1540.5 256.4 1545.4 256.8 1548.0 257.5C1550.6 258.2 1550.1 259.6 1550.5 260.0" stroke="#000" stroke-width="2.4" fill="none" stroke-linejoin="round" stroke-linecap="round" />
<path d="M1550.5 260.0C1550.3 261.2 1550.2 264.3 1549.5 267.0C1548.8 269.7 1547.6 273.2 1546.0 276.0C1544.4 278.8 1542.3 281.7 1540.0 284.0C1537.7 286.3 1534.7 288.4 1532.0 290.0C1529.3 291.6 1527.2 292.0 1523.7 293.7C1520.2 295.4 1515.4 298.2 1511.2 300.0C1507.0 301.8 1502.9 302.9 1498.7 304.3C1494.5 305.8 1491.4 307.0 1486.2 308.7C1481.0 310.4 1473.7 312.4 1467.4 314.3C1461.2 316.2 1454.9 318.2 1448.7 320.0C1442.5 321.8 1436.2 323.4 1430.0 325.0C1423.8 326.6 1417.5 327.9 1411.2 329.3C1405.0 330.7 1396.9 332.3 1392.5 333.1C1388.1 333.9 1389.2 333.5 1385.0 334.3C1380.8 335.1 1373.5 336.5 1367.4 338.1C1361.3 339.7 1354.8 341.9 1348.6 343.7C1342.4 345.5 1334.6 347.2 1330.0 348.7C1325.4 350.2 1323.7 351.0 1321.2 352.5C1318.7 354.0 1316.9 355.8 1315.0 357.5C1313.1 359.2 1311.6 360.1 1310.0 362.5C1308.4 364.9 1306.9 368.5 1305.5 372.0C1304.1 375.5 1302.7 380.3 1301.8 383.7C1300.9 387.1 1300.6 389.5 1300.0 392.5C1299.4 395.5 1299.4 395.2 1298.0 401.5C1296.6 407.8 1293.7 415.9 1291.7 430.0C1289.7 444.1 1287.8 467.4 1285.8 486.0C1283.8 504.6 1281.6 527.5 1279.9 541.5C1278.2 555.5 1276.5 562.1 1275.6 570.0C1274.7 577.9 1274.8 582.9 1274.3 588.7C1273.8 594.5 1273.2 599.8 1272.5 605.0C1271.8 610.2 1271.0 615.8 1270.0 620.0C1269.0 624.2 1267.8 628.0 1266.8 630.5C1265.8 633.0 1264.6 634.1 1263.7 634.7C1262.8 635.3 1262.4 635.3 1261.2 634.3C1260.0 633.3 1258.2 631.7 1256.8 628.7C1255.3 625.7 1253.8 620.8 1252.5 616.2C1251.2 611.6 1250.0 606.2 1248.7 601.2C1247.5 596.2 1246.5 591.4 1245.0 586.2C1243.5 581.0 1242.4 577.5 1240.0 570.0C1237.6 562.5 1232.6 547.8 1230.5 541.5C1228.4 535.2 1228.5 535.6 1227.4 532.4C1226.3 529.2 1225.2 526.1 1223.7 522.4C1222.2 518.7 1220.6 514.0 1218.7 510.0C1216.8 506.1 1214.2 501.6 1212.4 498.7C1210.6 495.8 1208.7 493.5 1208.0 492.5" stroke="#000" stroke-width="2.4" fill="none" stroke-linejoin="round" stroke-linecap="round" />
<path d="M1208.0 492.5L1204.9 488.4L1201.7 484.4L1198.2 480.7L1194.5 477.3L1190.6 473.9L1186.7 470.6L1182.7 467.4L1178.6 464.3L1174.4 461.4L1170.1 458.7L1165.7 456.1L1161.2 453.7L1156.6 451.5L1151.9 449.5L1147.1 447.6L1142.3 446.0L1137.4 444.4L1132.6 442.8L1127.7 441.3L1122.7 440.1L1117.7 439.0L1112.7 438.1L1107.6 437.5L1102.5 437.2L1097.4 436.8L1092.3 436.7L1087.2 437.1L1082.2 437.9L1077.2 439.1L1072.3 440.5L1067.5 442.2L1062.8 444.2L1058.2 446.4L1053.7 448.9L1049.0 450.8L1044.0 452.0L1039.0 452.9L1034.0 453.8L1028.9 454.6L1023.8 455.2L1018.8 455.8L1013.7 456.5L1008.7 457.3L1003.6 458.2L998.6 459.0L993.5 459.7L988.4 460.4L983.4 460.9L978.3 461.3L973.2 461.7L968.1 462.0L963.0 462.3L957.9 462.5L952.8 462.7L947.7 462.9L942.6 463.3L937.5 464.0L932.4 464.7L927.4 465.2L922.2 465.4L917.1 465.7L912.0 466.0L907.0 466.6L901.9 467.4L897.0 468.7L892.2 470.6L887.9 473.2L883.8 476.4L880.3 480.1L877.3 484.2L874.7 488.6L872.4 493.2L870.6 498.0L869.1 502.8L867.9 507.8L866.9 512.8L866.1 517.9L864.4 523.0L865.4 500.0L866.3 493.5L867.6 487.0L869.2 480.6L870.9 474.3L872.7 468.0L874.9 461.7L877.3 455.6L880.2 449.7L883.7 444.1L887.8 439.0L892.6 434.5L897.9 430.7L903.6 427.3L909.3 424.0L915.0 420.8L920.7 417.5L926.4 414.2L932.2 411.0L938.0 408.0L944.0 405.2L950.0 402.5L956.1 400.1L962.3 397.9L968.6 395.9L975.0 394.3L981.4 392.9L987.8 391.6L994.3 390.4L1000.8 389.4L1007.3 388.6L1013.9 388.0L1020.5 387.7L1027.1 387.6L1033.6 387.4L1040.2 387.3L1046.7 386.4L1053.2 385.3L1059.7 384.2L1066.2 383.1L1072.3 382.8L1078.4 383.1L1084.5 383.5L1090.6 383.9L1096.8 384.3L1102.9 384.7L1109.0 385.1L1115.1 385.6L1121.2 385.9L1127.3 386.2L1133.4 386.4L1139.6 386.5L1145.7 386.5L1151.8 386.5L1157.9 386.4L1164.1 386.3L1170.2 386.1L1176.3 385.8L1182.4 385.5L1188.5 385.2L1194.7 384.9L1200.8 384.5L1206.9 383.9L1213.0 383.4L1219.1 382.8L1225.1 381.7L1231.0 380.3L1236.5 377.7L1241.2 373.7L1244.7 368.7L1247.5 363.3L1249.6 357.6L1251.3 351.8L1252.9 345.9L1254.3 340.0L1255.5 334.0L1256.7 328.0L1257.8 322.0L1258.7 316.0L1259.7 310.0L1260.7 304.0L1261.7 298.0L1262.7 292.0L1263.6 286.0L1264.5 280.0L1265.3 273.9L1266.0 267.9L1266.7 261.8L1267.4 255.8L1268.0 249.7L1268.6 243.7L1269.2 237.6L1269.7 231.5L1270.3 225.5L1270.8 219.4L1271.4 213.4L1271.9 207.3L1272.5 201.2L1273.0 195.2L1273.6 189.1L1274.0 183.0L1274.5 177.0L1275.1 170.9L1275.9 164.9L1276.8 158.8L1277.6 152.8L1278.4 146.8L1279.3 140.8L1280.0 134.7L1280.8 128.7L1281.5 122.6L1282.3 116.6L1283.2 110.6L1284.2 104.6L1285.1 98.5L1286.1 92.5L1287.3 86.6L1290.6 81.9L1294.5 84.3L1296.2 88.7L1297.3 93.4L1298.3 98.1L1299.3 102.8L1300.4 107.5L1301.4 112.2L1302.6 116.9L1303.9 121.5L1305.2 126.2L1306.4 130.8L1307.6 135.5L1308.7 140.2L1309.9 144.8L1311.4 149.4L1312.9 154.0L1314.4 158.5L1315.9 163.1L1317.4 167.7L1319.1 172.2L1320.8 176.7L1322.6 181.2L1324.5 185.6L1326.6 189.9L1328.8 194.2L1331.2 198.4L1333.8 202.4L1336.5 206.4L1339.6 210.1L1342.9 213.6L1346.3 216.9L1350.0 220.1L1353.8 223.0L1357.8 225.7L1361.9 228.3L1366.1 230.6L1370.5 232.5L1375.0 234.1L1379.6 235.5L1384.3 236.8L1388.8 238.3L1393.3 240.0L1397.8 241.7L1402.4 243.4L1406.9 245.0L1411.4 246.6L1415.9 248.2L1420.5 249.9L1425.0 251.5L1430.3 253.3L1435.6 255.0L1441.0 256.6L1446.5 257.9L1451.9 259.1L1457.5 259.9L1463.0 260.7L1468.6 261.2L1474.2 261.7L1479.8 262.3L1485.3 262.9L1490.9 263.4L1496.5 264.0L1502.1 264.5L1507.6 264.9L1513.2 265.2L1518.8 265.4L1524.4 265.6L1530.0 265.7L1535.6 265.8L1541.2 265.8L1546.8 265.3L1550.8 262.0L1550.0 269.0L1547.6 275.6L1544.5 281.8L1540.1 287.3L1534.8 291.8L1528.9 295.6L1522.6 298.8L1516.1 301.5L1509.5 303.6L1502.6 305.1L1495.8 306.9L1489.2 309.3L1482.5 311.4L1475.8 313.5L1469.1 315.5L1462.4 317.5L1455.7 319.6L1449.0 321.6L1442.2 323.5L1435.4 325.3L1428.6 327.0L1421.8 328.7L1415.0 330.2L1408.1 331.7L1401.2 333.1L1394.3 334.4L1387.4 335.7L1380.5 336.9L1373.6 338.3L1366.8 340.0L1360.1 341.9L1353.4 344.0L1346.6 345.9L1339.9 347.8L1333.1 349.6L1326.4 351.8L1320.2 354.9L1314.7 359.3L1310.0 364.5L1306.5 369.3L1303.9 374.6L1301.9 380.3L1300.1 386.0L1298.7 391.7L1297.4 397.5L1296.0 403.3L1294.3 409.0L1292.6 414.7L1291.1 420.5L1289.8 426.3L1288.9 432.2L1288.1 438.1L1287.4 444.0L1286.7 449.9L1286.1 455.8L1285.5 461.8L1284.9 467.7L1284.3 473.6L1283.7 479.5L1283.1 485.5L1282.4 491.4L1281.6 497.3L1280.9 503.2L1280.2 509.1L1279.4 515.0L1278.7 520.9L1277.9 526.8L1277.2 532.7L1276.5 538.6L1275.7 544.5L1275.0 550.5L1274.3 556.4L1273.6 562.3L1272.9 568.2L1272.3 574.1L1271.8 580.0L1271.3 586.0L1270.7 591.9L1270.0 597.8L1269.2 603.7L1268.4 609.6L1267.4 615.5L1266.4 621.4L1265.4 627.2L1264.2 633.1L1262.8 638.9L1261.1 644.5L1258.7 650.0L1254.8 644.6L1252.7 638.1L1250.8 631.6L1249.0 625.1L1247.4 618.5L1245.7 612.0L1244.0 605.4L1242.2 598.9L1240.5 592.3L1238.8 585.8L1237.2 579.2L1235.7 572.6L1233.8 566.1L1231.6 559.7L1229.4 553.3L1227.3 546.9L1225.2 540.4L1222.9 534.1L1220.1 527.9L1217.2 521.8L1214.5 515.6L1211.5 509.5L1208.0 503.7" stroke="#ff0000" stroke-width="2.45" fill="none" stroke-linejoin="round" stroke-linecap="round" />
<path d="M1208.0 502.5L1205.1 498.2L1202.2 494.1L1198.9 490.1L1195.5 486.4L1191.9 482.7L1188.2 479.2L1184.5 475.7L1180.7 472.3L1176.7 469.1L1172.7 466.0L1168.4 463.2L1164.1 460.5L1159.6 458.0L1155.0 455.6L1150.4 453.5L1145.6 451.6L1140.8 449.7L1136.0 447.9L1131.1 446.2L1126.2 444.8L1121.2 443.5L1116.2 442.4L1111.2 441.5L1106.1 440.8L1101.0 440.2L1095.8 439.8L1090.7 439.8L1085.7 440.3L1080.6 441.0L1075.6 442.2L1070.7 443.4L1065.9 445.0L1061.1 446.8L1056.5 448.9L1051.6 450.5L1046.6 451.7L1041.6 452.8L1036.5 453.7L1031.4 454.6L1026.3 455.3L1021.2 456.1L1016.1 456.8L1011.0 457.7L1005.9 458.5L1000.8 459.4L995.7 460.1L990.5 460.8L985.4 461.3L980.3 461.8L975.1 462.2L969.9 462.5L964.8 462.9L959.6 463.1L954.5 463.3L949.3 463.5L944.2 463.9L939.0 464.5L933.9 465.2L928.8 465.8L923.7 466.3L918.5 466.6L913.4 466.8L908.2 467.1L903.1 467.8L898.1 468.9L893.2 470.6L888.7 473.0L884.6 476.1L881.0 479.8L877.8 483.9L875.1 488.3L872.7 492.9L870.8 497.7L869.3 502.6L868.0 507.6L867.0 512.7L864.4 519.0L865.6 500.0L866.6 493.6L867.8 487.3L869.5 481.1L871.2 474.9L873.0 468.7L875.1 462.6L877.4 456.6L880.2 450.8L883.6 445.3L887.6 440.3L892.2 435.8L897.4 432.0L902.8 428.6L908.4 425.3L913.9 422.1L919.5 418.9L925.1 415.7L930.8 412.7L936.5 409.7L942.4 407.0L948.3 404.5L954.3 402.2L960.4 400.1L966.5 398.2L972.8 396.7L979.1 395.3L985.4 394.1L991.7 392.9L998.1 391.9L1004.5 391.1L1010.9 390.5L1017.3 390.2L1023.8 390.0L1030.2 389.9L1036.6 389.7L1043.0 388.8L1049.3 387.6L1055.6 386.4L1062.0 385.2L1068.0 385.1L1074.0 385.6L1080.1 386.2L1086.1 386.7L1092.2 387.2L1098.2 387.6L1104.3 388.0L1110.4 388.4L1116.4 388.7L1122.5 388.9L1128.6 389.0L1134.7 389.1L1140.8 389.1L1146.9 389.1L1153.0 389.0L1159.1 388.9L1165.2 388.7L1171.2 388.4L1177.3 388.1L1183.4 387.8L1189.5 387.4L1195.6 387.0L1201.7 386.5L1207.8 386.1L1213.9 385.4L1219.9 384.3L1225.8 382.7L1231.2 379.9L1235.8 375.9L1239.2 370.8L1241.9 365.4L1244.0 359.7L1245.7 353.9L1247.2 348.0L1248.6 342.1L1249.9 336.2L1251.0 330.2L1252.0 324.2L1253.0 318.3L1254.0 312.3L1255.0 306.3L1256.0 300.3L1256.9 294.3L1257.8 288.3L1258.7 282.3L1259.7 276.3L1260.6 270.3L1261.4 264.3L1262.0 258.2L1262.6 252.2L1263.2 246.1L1263.7 240.1L1264.3 234.1L1264.8 228.0L1265.3 222.0L1265.8 215.9L1266.4 209.9L1267.0 203.8L1267.5 197.8L1268.1 191.7L1268.6 185.7L1269.1 179.6L1269.6 173.6L1270.3 167.5L1271.1 161.5L1271.9 155.5L1272.6 149.5L1273.4 143.5L1274.0 137.5L1274.5 131.5L1275.0 125.6L1275.7 119.7L1276.4 113.7L1277.2 107.8L1278.0 101.9L1278.9 96.0L1280.1 90.2L1283.4 85.7L1287.8 88.0L1290.0 92.3L1291.5 96.8L1292.8 101.5L1294.2 106.1L1295.5 110.7L1296.8 115.3L1298.2 119.9L1299.6 124.5L1301.1 129.1L1302.4 133.7L1303.7 138.4L1304.9 143.1L1306.2 147.7L1307.7 152.3L1309.3 156.9L1310.9 161.4L1312.6 166.0L1314.2 170.5L1316.0 175.0L1317.8 179.5L1319.7 183.9L1321.8 188.3L1324.0 192.6L1326.3 196.9L1328.8 201.0L1331.5 205.0L1334.5 208.9L1337.7 212.5L1341.1 215.9L1344.7 219.1L1348.5 222.1L1352.5 224.9L1356.6 227.5L1360.8 229.8L1365.2 231.9L1369.7 233.6L1374.3 235.1L1379.0 236.3L1383.7 237.5L1388.3 238.8L1392.9 240.3L1397.5 241.9L1402.1 243.4L1406.7 245.0L1411.3 246.6L1415.8 248.3L1420.4 249.9L1425.0 251.5L1430.3 253.1L1435.6 254.1L1441.0 254.8L1446.5 255.6L1451.9 256.4L1457.4 257.3L1462.9 258.3L1468.4 259.1L1473.9 259.7L1479.4 260.3L1485.0 260.8L1490.5 261.2L1496.1 261.5L1501.6 261.7L1507.2 261.9L1512.7 262.1L1518.3 262.1L1523.8 262.1L1529.4 262.1L1535.0 262.1L1540.5 262.1L1546.1 261.8L1550.3 260.2L1549.6 268.0L1547.2 274.7L1544.0 281.0L1539.6 286.5L1534.3 291.1L1528.5 295.1L1522.3 298.5L1515.8 301.4L1509.2 303.7L1502.4 305.5L1495.6 307.5L1488.9 309.9L1482.2 312.2L1475.5 314.4L1468.8 316.5L1462.0 318.6L1455.3 320.7L1448.5 322.7L1441.7 324.6L1434.8 326.4L1428.0 328.2L1421.1 329.8L1414.2 331.3L1407.3 332.8L1400.3 334.2L1393.4 335.5L1386.4 336.7L1379.4 337.9L1372.5 339.3L1365.6 341.0L1358.8 343.1L1352.1 345.2L1345.3 347.2L1338.5 349.2L1331.7 351.1L1325.1 353.5L1318.8 356.6L1313.1 360.9L1308.3 366.1L1304.7 370.9L1301.9 376.1L1299.8 381.7L1297.9 387.4L1296.3 393.1L1294.8 398.9L1293.3 404.7L1291.5 410.4L1289.8 416.1L1288.3 421.9L1287.2 427.8L1286.2 433.7L1285.4 439.7L1284.7 445.6L1284.1 451.6L1283.5 457.5L1282.8 463.5L1282.2 469.4L1281.6 475.4L1281.0 481.3L1280.3 487.3L1279.6 493.2L1278.8 499.2L1278.1 505.1L1277.4 511.0L1276.6 517.0L1275.9 522.9L1275.1 528.9L1274.4 534.8L1273.7 540.7L1273.0 546.7L1272.4 552.6L1271.7 558.6L1271.1 564.5L1270.4 570.5L1269.7 576.4L1269.2 582.4L1268.7 588.4L1268.0 594.3L1267.4 600.3L1266.6 606.2L1265.8 612.1L1264.9 618.0L1263.9 623.9L1262.9 629.8L1261.7 635.7L1260.4 641.6L1258.7 647.3L1255.9 652.4L1252.1 647.3L1250.0 641.2L1248.1 635.0L1246.3 628.7L1244.7 622.4L1243.1 616.1L1241.4 609.9L1239.7 603.6L1238.1 597.3L1236.5 591.0L1235.0 584.7L1233.6 578.4L1231.8 572.1L1229.8 565.9L1227.7 559.8L1225.7 553.6L1223.7 547.4L1221.6 541.3L1219.0 535.3L1216.5 529.4L1213.9 523.4L1211.2 517.6L1208.0 511.9" stroke="#00ff00" stroke-width="2.45" fill="none" stroke-linejoin="round" stroke-linecap="round" />
<path d="M1208.0 511.0L1205.3 506.6L1202.5 502.3L1199.5 498.1L1196.3 494.1L1193.0 490.2L1189.5 486.4L1186.0 482.7L1182.4 479.1L1178.7 475.6L1174.8 472.3L1170.7 469.2L1166.5 466.2L1162.2 463.4L1157.7 460.9L1153.1 458.5L1148.4 456.4L1143.7 454.3L1138.9 452.3L1134.1 450.4L1129.2 448.8L1124.2 447.3L1119.2 446.0L1114.2 444.8L1109.1 443.9L1104.0 443.1L1098.8 442.5L1093.7 442.2L1088.6 442.3L1083.5 442.7L1078.5 443.6L1073.4 444.5L1068.5 445.6L1063.6 447.1L1058.9 448.8L1053.9 450.3L1048.8 451.5L1043.7 452.6L1038.6 453.6L1033.5 454.6L1028.4 455.5L1023.2 456.3L1018.1 457.1L1013.0 458.0L1007.8 458.9L1002.7 459.7L997.5 460.4L992.3 461.1L987.1 461.7L981.9 462.1L976.7 462.6L971.5 463.0L966.3 463.3L961.1 463.6L955.9 463.8L950.7 464.1L945.5 464.5L940.3 465.0L935.1 465.6L930.0 466.4L924.9 467.0L919.7 467.3L914.5 467.4L909.3 467.5L904.1 468.1L899.0 469.0L894.1 470.5L889.4 472.8L885.2 475.9L881.5 479.5L878.3 483.6L875.4 488.0L873.0 492.6L871.0 497.4L869.4 502.4L868.1 507.4L867.0 512.5L866.2 517.7L864.4 524.0L865.7 500.0L866.7 493.7L868.0 487.5L869.6 481.3L871.4 475.2L873.2 469.1L875.2 463.1L877.5 457.2L880.3 451.4L883.6 446.0L887.5 441.0L892.0 436.5L897.1 432.7L902.4 429.2L907.9 426.0L913.4 422.8L918.9 419.6L924.5 416.5L930.1 413.5L935.7 410.7L941.5 408.0L947.4 405.5L953.3 403.3L959.4 401.2L965.5 399.5L971.6 397.9L977.9 396.6L984.1 395.4L990.4 394.2L996.7 393.2L1003.0 392.4L1009.3 391.8L1015.7 391.5L1022.0 391.3L1028.4 391.2L1034.7 391.0L1041.0 390.1L1047.3 388.8L1053.5 387.5L1059.7 386.2L1065.8 386.2L1072.0 386.8L1078.1 387.4L1084.2 388.0L1090.3 388.4L1096.5 388.7L1102.6 389.0L1108.8 389.3L1114.9 389.5L1121.1 389.7L1127.3 389.7L1133.4 389.8L1139.6 389.8L1145.8 389.7L1151.9 389.5L1158.1 389.4L1164.2 389.1L1170.4 388.8L1176.6 388.5L1182.7 388.1L1188.9 387.7L1195.0 387.3L1201.2 386.8L1207.3 386.3L1213.5 385.6L1219.5 384.4L1225.5 382.8L1230.9 380.0L1235.6 375.9L1239.0 370.9L1241.7 365.5L1243.8 359.8L1245.5 354.0L1247.0 348.1L1248.4 342.2L1249.7 336.3L1250.8 330.3L1251.8 324.3L1252.8 318.3L1253.8 312.3L1254.8 306.4L1255.8 300.4L1256.8 294.4L1257.6 288.4L1258.5 282.4L1259.5 276.4L1260.4 270.4L1261.2 264.4L1261.8 258.3L1262.4 252.3L1263.0 246.2L1263.6 240.2L1264.1 234.1L1264.6 228.1L1265.1 222.0L1265.7 216.0L1266.2 210.0L1266.8 203.9L1267.3 197.9L1267.9 191.8L1268.4 185.8L1268.9 179.7L1269.4 173.7L1270.1 167.6L1270.9 161.6L1271.7 155.6L1272.4 149.6L1273.2 143.6L1273.9 137.6L1274.5 131.6L1275.1 125.6L1275.8 119.6L1276.6 113.6L1277.4 107.7L1278.3 101.7L1279.3 95.8L1280.6 89.9L1284.0 85.4L1288.1 87.8L1290.1 92.2L1291.5 96.9L1292.7 101.6L1293.9 106.3L1295.0 111.0L1296.2 115.7L1297.5 120.4L1298.9 125.0L1300.3 129.7L1301.6 134.4L1302.8 139.1L1303.9 143.8L1305.1 148.5L1306.5 153.2L1308.1 157.8L1309.8 162.4L1311.4 167.0L1313.0 171.5L1314.8 176.1L1316.6 180.6L1318.6 185.0L1320.7 189.4L1322.9 193.8L1325.2 198.1L1327.8 202.2L1330.5 206.2L1333.5 210.0L1336.8 213.7L1340.3 217.0L1344.0 220.2L1347.8 223.2L1351.8 225.9L1356.0 228.3L1360.3 230.6L1364.7 232.5L1369.3 234.2L1373.9 235.6L1378.6 236.7L1383.4 237.8L1388.1 239.1L1392.7 240.5L1397.3 242.0L1402.0 243.5L1406.6 245.1L1411.2 246.7L1415.8 248.3L1420.4 249.9L1425.0 251.4L1430.3 253.0L1435.6 253.7L1441.0 254.1L1446.5 254.6L1452.0 255.3L1457.4 256.1L1462.8 257.2L1468.3 258.1L1473.8 258.9L1479.3 259.4L1484.8 259.8L1490.4 260.1L1495.9 260.3L1501.4 260.4L1507.0 260.6L1512.5 260.6L1518.0 260.6L1523.6 260.4L1529.1 260.4L1534.7 260.4L1540.2 260.5L1545.7 260.3L1550.1 259.4L1549.5 267.5L1547.0 274.2L1543.8 280.5L1539.4 286.1L1534.1 290.8L1528.3 294.9L1522.1 298.3L1515.7 301.3L1509.0 303.8L1502.2 305.7L1495.5 307.8L1488.8 310.3L1482.1 312.6L1475.3 314.8L1468.6 317.0L1461.8 319.2L1455.0 321.3L1448.2 323.3L1441.4 325.2L1434.5 327.0L1427.6 328.8L1420.7 330.4L1413.8 331.9L1406.8 333.4L1399.8 334.8L1392.8 336.1L1385.8 337.2L1378.8 338.4L1371.9 339.8L1365.0 341.6L1358.2 343.7L1351.4 345.8L1344.6 347.9L1337.8 349.9L1331.0 352.0L1324.4 354.4L1318.0 357.6L1312.3 361.8L1307.4 366.9L1303.8 371.7L1300.9 376.9L1298.6 382.4L1296.7 388.1L1295.0 393.8L1293.5 399.6L1291.9 405.4L1290.1 411.2L1288.3 416.9L1286.9 422.7L1285.8 428.6L1284.8 434.5L1284.0 440.5L1283.3 446.5L1282.7 452.4L1282.0 458.4L1281.4 464.4L1280.8 470.3L1280.2 476.3L1279.5 482.3L1278.8 488.2L1278.1 494.2L1277.4 500.1L1276.6 506.1L1275.9 512.1L1275.1 518.0L1274.4 524.0L1273.6 529.9L1272.9 535.9L1272.2 541.9L1271.6 547.8L1271.0 553.8L1270.4 559.8L1269.7 565.7L1269.1 571.7L1268.4 577.7L1267.9 583.6L1267.3 589.6L1266.7 595.6L1266.0 601.6L1265.2 607.5L1264.4 613.5L1263.5 619.4L1262.6 625.3L1261.6 631.2L1260.5 637.1L1259.2 643.0L1257.4 648.7L1254.5 653.6L1250.7 648.7L1248.5 642.8L1246.7 636.7L1244.9 630.6L1243.3 624.5L1241.7 618.3L1240.1 612.2L1238.4 606.1L1236.9 599.9L1235.3 593.8L1233.9 587.6L1232.5 581.4L1230.8 575.3L1228.8 569.2L1226.9 563.2L1224.9 557.2L1223.0 551.1L1220.9 545.1L1218.5 539.3L1216.1 533.4L1213.6 527.6L1211.0 521.8L1208.0 516.3" stroke="#0000ff" stroke-width="2.45" fill="none" stroke-linejoin="round" stroke-linecap="round" />
<path d="M1208.0 515.5L1205.4 511.0L1202.7 506.6L1199.8 502.3L1196.8 498.2L1193.6 494.2L1190.2 490.3L1186.8 486.5L1183.3 482.7L1179.7 479.1L1175.9 475.6L1172.0 472.3L1167.8 469.2L1163.6 466.3L1159.1 463.7L1154.6 461.2L1149.9 458.9L1145.2 456.7L1140.5 454.6L1135.6 452.6L1130.7 450.9L1125.8 449.3L1120.8 447.9L1115.7 446.6L1110.7 445.6L1105.6 444.6L1100.4 443.9L1095.3 443.4L1090.2 443.3L1085.1 443.6L1079.9 444.3L1074.9 445.0L1069.9 446.0L1065.0 447.3L1060.1 448.8L1055.1 450.1L1050.0 451.4L1044.9 452.5L1039.8 453.6L1034.6 454.6L1029.5 455.5L1024.3 456.4L1019.2 457.3L1014.0 458.2L1008.8 459.0L1003.6 459.8L998.5 460.6L993.3 461.3L988.1 461.8L982.8 462.3L977.6 462.8L972.4 463.2L967.2 463.6L961.9 463.9L956.7 464.1L951.5 464.3L946.2 464.7L941.0 465.2L935.8 465.8L930.7 466.7L925.5 467.4L920.3 467.7L915.1 467.7L909.8 467.8L904.6 468.2L899.5 469.1L894.5 470.5L889.8 472.7L885.5 475.7L881.8 479.4L878.5 483.5L875.6 487.8L873.1 492.4L871.1 497.3L869.5 502.2L868.1 507.3L867.1 512.4L866.2 517.6L865.4 522.8L864.4 527.0L865.8 500.0L866.9 493.8L868.2 487.7L869.8 481.6L871.6 475.6L873.3 469.6L875.4 463.7L877.7 457.8L880.3 452.2L883.5 446.8L887.4 441.8L891.8 437.3L896.7 433.5L901.9 430.1L907.3 426.8L912.7 423.6L918.1 420.5L923.6 417.5L929.2 414.6L934.8 411.8L940.5 409.2L946.3 406.8L952.2 404.6L958.1 402.7L964.2 401.0L970.2 399.5L976.4 398.2L982.5 396.9L988.7 395.8L994.9 394.8L1001.1 394.0L1007.4 393.4L1013.6 393.1L1019.9 392.9L1026.2 392.7L1032.4 392.6L1038.6 391.6L1044.7 390.3L1050.8 389.0L1057.0 387.6L1063.2 387.6L1069.4 388.2L1075.6 388.9L1081.8 389.5L1088.1 389.8L1094.3 390.1L1100.6 390.3L1106.8 390.4L1113.1 390.6L1119.3 390.6L1125.6 390.7L1131.9 390.6L1138.1 390.5L1144.4 390.4L1150.6 390.2L1156.9 390.0L1163.1 389.7L1169.4 389.4L1175.6 389.0L1181.8 388.6L1188.1 388.2L1194.3 387.7L1200.5 387.1L1206.7 386.6L1212.9 385.8L1219.1 384.7L1225.1 383.0L1230.6 380.1L1235.3 376.1L1238.7 371.0L1241.5 365.6L1243.5 359.9L1245.2 354.1L1246.8 348.2L1248.1 342.3L1249.4 336.4L1250.5 330.4L1251.6 324.4L1252.5 318.4L1253.5 312.5L1254.5 306.5L1255.5 300.5L1256.5 294.5L1257.3 288.5L1258.2 282.5L1259.2 276.5L1260.1 270.5L1260.9 264.5L1261.6 258.4L1262.2 252.4L1262.7 246.4L1263.3 240.3L1263.8 234.3L1264.3 228.2L1264.8 222.2L1265.4 216.1L1265.9 210.1L1266.5 204.0L1267.1 198.0L1267.6 192.0L1268.1 185.9L1268.6 179.9L1269.1 173.8L1269.8 167.8L1270.6 161.8L1271.4 155.7L1272.1 149.7L1272.9 143.7L1273.4 137.8L1273.8 131.9L1274.2 126.0L1274.7 120.1L1275.3 114.2L1276.0 108.4L1276.7 102.5L1277.4 96.7L1278.6 90.9L1281.9 86.5L1286.0 88.9L1288.1 93.4L1289.5 98.0L1290.7 102.8L1291.9 107.5L1293.1 112.2L1294.3 117.0L1295.6 121.7L1297.0 126.4L1298.4 131.0L1299.7 135.7L1300.9 140.5L1302.0 145.3L1303.2 150.0L1304.6 154.7L1306.2 159.3L1307.9 163.9L1309.6 168.5L1311.2 173.1L1313.0 177.7L1314.9 182.2L1317.0 186.6L1319.1 191.0L1321.3 195.4L1323.7 199.7L1326.4 203.8L1329.2 207.7L1332.3 211.6L1335.6 215.1L1339.2 218.5L1343.0 221.6L1346.9 224.4L1351.0 227.1L1355.3 229.4L1359.6 231.5L1364.1 233.3L1368.7 234.9L1373.5 236.2L1378.2 237.2L1383.0 238.2L1387.7 239.4L1392.4 240.7L1397.1 242.1L1401.8 243.5L1406.4 245.1L1411.1 246.7L1415.7 248.3L1420.4 249.8L1425.0 251.4L1430.3 252.8L1435.6 253.2L1441.0 253.2L1446.5 253.5L1452.0 254.0L1457.4 254.8L1462.8 256.1L1468.2 257.1L1473.7 257.9L1479.2 258.5L1484.7 258.8L1490.2 259.1L1495.7 259.1L1501.2 259.1L1506.7 259.1L1512.3 259.1L1517.8 258.9L1523.3 258.7L1528.8 258.7L1534.3 258.7L1539.9 258.7L1545.4 258.6L1549.9 258.5L1549.2 266.9L1546.8 273.6L1543.5 279.9L1539.1 285.5L1533.8 290.4L1528.0 294.5L1521.9 298.1L1515.5 301.2L1508.8 303.8L1502.1 306.0L1495.3 308.2L1488.6 310.7L1481.9 313.1L1475.1 315.4L1468.4 317.6L1461.6 319.8L1454.8 322.0L1447.9 324.0L1441.0 326.0L1434.1 327.8L1427.2 329.5L1420.2 331.2L1413.3 332.7L1406.3 334.1L1399.2 335.5L1392.2 336.8L1385.2 337.9L1378.1 339.0L1371.1 340.5L1364.2 342.3L1357.4 344.4L1350.6 346.6L1343.8 348.7L1336.9 350.8L1330.2 353.0L1323.5 355.5L1317.1 358.7L1311.3 362.8L1306.3 367.9L1302.6 372.7L1299.6 377.8L1297.3 383.4L1295.2 389.0L1293.4 394.7L1291.8 400.5L1290.1 406.3L1288.3 412.1L1286.5 417.8L1285.1 423.7L1284.0 429.6L1283.1 435.5L1282.3 441.5L1281.6 447.5L1281.0 453.5L1280.3 459.5L1279.7 465.5L1279.0 471.4L1278.4 477.4L1277.7 483.4L1277.0 489.4L1276.3 495.4L1275.5 501.4L1274.8 507.3L1274.0 513.3L1273.3 519.3L1272.5 525.3L1271.8 531.3L1271.1 537.2L1270.5 543.2L1269.9 549.2L1269.3 555.2L1268.8 561.2L1268.1 567.2L1267.4 573.2L1266.8 579.2L1266.2 585.2L1265.6 591.2L1265.0 597.1L1264.3 603.1L1263.6 609.1L1262.8 615.1L1261.9 621.0L1260.9 627.0L1260.0 632.9L1258.9 638.9L1257.6 644.8L1255.9 650.5L1252.7 655.2L1248.9 650.5L1246.8 644.8L1244.9 638.9L1243.2 633.0L1241.6 627.0L1240.0 621.0L1238.4 615.1L1236.8 609.1L1235.3 603.1L1233.9 597.2L1232.5 591.1L1231.1 585.1L1229.5 579.2L1227.7 573.3L1225.8 567.4L1223.9 561.6L1222.0 555.7L1220.1 549.8L1217.9 544.1L1215.6 538.4L1213.2 532.7L1210.8 527.0L1208.0 521.6" stroke="#00ffff" stroke-width="2.45" fill="none" stroke-linejoin="round" stroke-linecap="round" />
<path d="M1208.0 521.0L1205.5 516.4L1202.9 511.9L1200.2 507.5L1197.3 503.2L1194.3 499.1L1191.1 495.0L1187.8 491.0L1184.4 487.1L1181.0 483.3L1177.3 479.6L1173.5 476.2L1169.4 472.9L1165.2 469.9L1160.8 467.1L1156.3 464.4L1151.8 462.0L1147.1 459.6L1142.4 457.4L1137.5 455.3L1132.6 453.5L1127.7 451.8L1122.7 450.2L1117.7 448.8L1112.6 447.6L1107.5 446.5L1102.4 445.6L1097.2 444.9L1092.1 444.6L1086.9 444.7L1081.8 445.2L1076.7 445.7L1071.6 446.4L1066.6 447.5L1061.6 448.7L1056.6 450.0L1051.4 451.2L1046.3 452.4L1041.2 453.6L1036.0 454.6L1030.8 455.6L1025.7 456.5L1020.5 457.5L1015.3 458.4L1010.1 459.2L1004.9 460.0L999.6 460.8L994.4 461.5L989.2 462.1L983.9 462.6L978.7 463.1L973.4 463.5L968.2 463.9L962.9 464.2L957.6 464.4L952.4 464.7L947.1 465.1L941.9 465.5L936.6 466.0L931.4 467.0L926.3 467.8L921.0 468.2L915.8 468.1L910.5 468.1L905.3 468.4L900.1 469.2L895.0 470.5L890.2 472.6L885.9 475.6L882.1 479.2L878.8 483.3L875.8 487.7L873.3 492.3L871.2 497.1L869.5 502.1L868.2 507.2L867.1 512.4L866.2 517.5L865.4 522.8L864.8 528.0L864.4 532.5L866.0 500.0L867.1 494.0L868.5 488.0L870.1 482.1L871.9 476.2L873.6 470.3L875.6 464.5L877.8 458.8L880.4 453.3L883.5 448.0L887.2 443.1L891.4 438.6L896.1 434.8L901.2 431.3L906.4 428.1L911.6 424.9L916.9 421.9L922.4 419.0L927.8 416.2L933.3 413.5L938.9 411.0L944.6 408.7L950.4 406.7L956.2 404.9L962.1 403.3L968.1 401.9L974.1 400.6L980.1 399.4L986.1 398.3L992.2 397.3L998.3 396.5L1004.4 396.0L1010.5 395.6L1016.6 395.3L1022.7 395.2L1028.8 395.0L1034.9 393.9L1040.8 392.6L1046.8 391.1L1052.7 389.6L1059.0 389.8L1065.2 390.6L1071.4 391.5L1077.6 392.2L1083.9 392.5L1090.2 392.7L1096.5 392.8L1102.7 392.9L1109.0 392.9L1115.3 392.9L1121.6 392.9L1127.9 392.8L1134.1 392.7L1140.4 392.5L1146.7 392.3L1153.0 392.0L1159.2 391.7L1165.5 391.3L1171.8 390.9L1178.0 390.5L1184.3 390.0L1190.6 389.6L1196.8 389.0L1203.1 388.5L1209.3 387.7L1215.4 386.4L1221.4 384.6L1226.9 381.7L1231.7 377.5L1235.0 372.4L1237.7 367.1L1239.8 361.4L1241.5 355.6L1243.0 349.7L1244.3 343.8L1245.5 337.8L1246.7 331.9L1247.7 325.9L1248.7 319.9L1249.7 314.0L1250.7 308.0L1251.7 302.0L1252.6 296.0L1253.4 290.0L1254.4 284.0L1255.5 278.1L1256.5 272.1L1257.3 266.1L1258.0 260.1L1258.5 254.1L1259.1 248.0L1259.6 242.0L1260.1 236.0L1260.6 229.9L1261.2 223.9L1261.7 217.8L1262.2 211.8L1262.8 205.8L1263.4 199.8L1264.0 193.7L1264.5 187.7L1265.0 181.6L1265.4 175.6L1266.0 169.6L1266.7 163.6L1267.5 157.6L1268.2 151.5L1269.0 145.5L1269.6 139.5L1270.1 133.6L1270.8 127.6L1271.5 121.6L1272.2 115.7L1273.1 109.7L1274.0 103.8L1275.0 97.9L1276.4 92.0L1279.9 87.5L1284.0 90.0L1285.9 94.6L1287.3 99.3L1288.5 104.1L1289.6 108.9L1290.8 113.7L1292.0 118.5L1293.2 123.3L1294.6 128.1L1295.9 132.8L1297.3 137.6L1298.4 142.4L1299.4 147.2L1300.6 152.0L1301.9 156.8L1303.6 161.4L1305.2 166.1L1306.9 170.7L1308.6 175.4L1310.5 180.0L1312.4 184.5L1314.5 189.0L1316.7 193.4L1319.0 197.8L1321.5 202.1L1324.2 206.2L1327.2 210.1L1330.4 213.9L1333.8 217.4L1337.5 220.6L1341.4 223.6L1345.5 226.4L1349.7 228.9L1354.1 231.1L1358.6 233.0L1363.2 234.6L1368.0 235.9L1372.8 237.1L1377.6 238.0L1382.4 238.9L1387.3 239.9L1392.0 241.0L1396.8 242.2L1401.5 243.6L1406.2 245.1L1410.9 246.7L1415.6 248.3L1420.3 249.8L1425.0 251.4L1430.3 252.7L1435.7 252.6L1441.0 252.2L1446.5 252.1L1452.0 252.4L1457.4 253.3L1462.7 254.7L1468.1 255.8L1473.5 256.7L1479.0 257.3L1484.5 257.6L1490.0 257.7L1495.5 257.6L1501.0 257.5L1506.5 257.4L1512.0 257.2L1517.4 256.9L1522.9 256.6L1528.4 256.5L1533.9 256.5L1539.4 256.5L1544.9 256.5L1549.6 257.4L1548.8 266.0L1546.4 272.7L1543.0 279.1L1538.6 284.8L1533.4 289.7L1527.6 294.0L1521.5 297.8L1515.2 301.1L1508.6 303.9L1501.8 306.4L1495.1 308.8L1488.4 311.4L1481.6 313.9L1474.8 316.3L1468.0 318.6L1461.2 320.9L1454.3 323.1L1447.4 325.2L1440.5 327.1L1433.5 328.9L1426.5 330.6L1419.5 332.3L1412.5 333.8L1405.4 335.3L1398.3 336.6L1391.2 337.9L1384.1 338.9L1377.0 340.0L1370.0 341.5L1363.0 343.4L1356.1 345.5L1349.3 347.8L1342.4 350.0L1335.6 352.2L1328.8 354.6L1322.2 357.3L1315.7 360.4L1309.7 364.4L1304.6 369.5L1300.8 374.2L1297.6 379.3L1295.1 384.8L1292.9 390.4L1291.0 396.1L1289.2 401.9L1287.5 407.7L1285.6 413.5L1283.7 419.2L1282.4 425.1L1281.4 431.1L1280.5 437.1L1279.7 443.1L1279.0 449.1L1278.3 455.1L1277.6 461.1L1277.0 467.1L1276.3 473.2L1275.7 479.2L1275.0 485.2L1274.2 491.2L1273.5 497.2L1272.7 503.2L1272.0 509.2L1271.2 515.3L1270.5 521.3L1269.7 527.3L1269.0 533.3L1268.3 539.3L1267.7 545.3L1267.2 551.4L1266.7 557.4L1266.2 563.4L1265.6 569.5L1264.9 575.5L1264.2 581.5L1263.6 587.5L1263.0 593.5L1262.3 599.6L1261.7 605.6L1261.0 611.6L1260.2 617.6L1259.3 623.6L1258.4 629.6L1257.5 635.6L1256.5 641.5L1255.2 647.5L1253.5 653.3L1250.0 657.6L1246.2 653.3L1244.0 647.8L1242.2 642.2L1240.5 636.6L1238.9 630.9L1237.4 625.2L1235.9 619.5L1234.4 613.8L1233.0 608.1L1231.6 602.4L1230.3 596.6L1229.0 590.9L1227.5 585.2L1225.8 579.5L1224.1 573.9L1222.3 568.3L1220.6 562.7L1218.8 557.1L1216.9 551.5L1214.8 546.0L1212.6 540.5L1210.4 535.1L1208.0 529.8" stroke="#ff00ff" stroke-width="2.45" fill="none" stroke-linejoin="round" stroke-linecap="round" />
<path d="M1208.0 529.5L1205.7 524.8L1203.3 520.1L1200.8 515.5L1198.2 511.0L1195.4 506.6L1192.4 502.3L1189.3 498.1L1186.2 493.9L1183.0 489.8L1179.5 485.9L1175.8 482.2L1171.9 478.7L1167.8 475.4L1163.5 472.3L1159.1 469.5L1154.6 466.8L1150.0 464.2L1145.3 461.8L1140.5 459.5L1135.6 457.5L1130.6 455.6L1125.7 453.8L1120.7 452.2L1115.6 450.7L1110.5 449.4L1105.4 448.2L1100.2 447.3L1095.1 446.6L1089.8 446.3L1084.6 446.6L1079.4 446.8L1074.2 447.1L1069.1 447.8L1064.0 448.7L1058.8 449.7L1053.6 451.0L1048.5 452.3L1043.3 453.5L1038.1 454.7L1032.9 455.7L1027.7 456.8L1022.5 457.7L1017.2 458.7L1012.0 459.6L1006.7 460.4L1001.5 461.1L996.2 461.8L990.9 462.4L985.6 463.0L980.3 463.5L975.0 463.9L969.7 464.3L964.4 464.7L959.1 465.0L953.8 465.2L948.5 465.6L943.1 466.0L937.9 466.4L932.7 467.5L927.5 468.5L922.2 468.9L916.9 468.7L911.6 468.5L906.3 468.7L901.0 469.3L895.9 470.4L891.0 472.4L886.6 475.4L882.6 479.0L879.2 483.0L876.2 487.4L873.5 492.0L871.4 496.8L869.6 501.9L868.2 507.0L867.2 512.2L866.2 517.5L865.5 522.7L864.8 528.0L864.4 530.0L866.3 500.0L867.5 494.2L868.9 488.4L870.5 482.7L872.3 477.0L874.0 471.4L875.9 465.7L878.1 460.2L880.5 454.8L883.4 449.6L886.9 444.8L890.9 440.4L895.3 436.5L900.1 433.1L905.2 429.9L910.2 426.7L915.3 423.8L920.6 421.1L925.9 418.4L931.3 415.9L936.8 413.5L942.3 411.4L947.9 409.5L953.6 407.8L959.4 406.4L965.1 405.1L971.0 403.8L976.8 402.7L982.6 401.7L988.5 400.7L994.4 399.9L1000.3 399.3L1006.2 398.9L1012.1 398.6L1018.1 398.5L1024.0 398.3L1029.8 397.1L1035.6 395.7L1041.3 394.1L1047.0 392.4L1053.3 392.8L1059.5 393.8L1065.8 395.0L1072.1 395.7L1078.5 396.0L1084.8 396.1L1091.2 396.0L1097.5 395.9L1103.9 395.9L1110.2 395.8L1116.6 395.6L1122.9 395.4L1129.3 395.3L1135.6 395.0L1142.0 394.7L1148.3 394.4L1154.7 394.0L1161.0 393.6L1167.3 393.1L1173.7 392.7L1180.0 392.2L1186.3 391.7L1192.7 391.1L1199.0 390.6L1205.3 389.7L1211.5 388.3L1217.5 386.4L1223.0 383.3L1227.7 379.1L1230.9 374.0L1233.7 368.6L1235.8 362.9L1237.4 357.1L1238.9 351.2L1240.2 345.3L1241.4 339.4L1242.5 333.5L1243.6 327.5L1244.6 321.6L1245.6 315.6L1246.6 309.6L1247.5 303.7L1248.4 297.7L1249.2 291.7L1250.2 285.7L1251.4 279.8L1252.6 273.9L1253.4 267.9L1254.1 261.9L1254.6 255.9L1255.2 249.8L1255.7 243.8L1256.2 237.8L1256.7 231.7L1257.2 225.7L1257.7 219.7L1258.2 213.7L1258.8 207.7L1259.4 201.6L1260.0 195.6L1260.6 189.6L1261.0 183.6L1261.5 177.5L1262.0 171.5L1262.6 165.5L1263.3 159.5L1264.0 153.5L1264.7 147.5L1265.2 141.5L1265.7 135.6L1266.2 129.7L1266.8 123.8L1267.5 117.9L1268.2 112.0L1269.1 106.1L1270.1 100.2L1271.5 94.5L1275.1 90.1L1279.2 92.7L1281.3 97.2L1282.8 102.0L1284.1 106.8L1285.3 111.6L1286.6 116.5L1287.8 121.3L1289.1 126.1L1290.5 130.9L1291.9 135.7L1293.3 140.5L1294.4 145.4L1295.4 150.3L1296.5 155.2L1297.9 160.0L1299.5 164.7L1301.3 169.3L1303.0 174.0L1304.8 178.7L1306.8 183.3L1308.9 187.8L1311.1 192.3L1313.4 196.8L1315.8 201.2L1318.4 205.4L1321.3 209.5L1324.4 213.4L1327.8 217.1L1331.4 220.5L1335.2 223.7L1339.3 226.5L1343.6 229.1L1348.0 231.5L1352.5 233.5L1357.3 235.0L1362.0 236.3L1366.9 237.4L1371.8 238.4L1376.7 239.1L1381.7 239.8L1386.6 240.5L1391.5 241.4L1396.4 242.4L1401.2 243.7L1406.0 245.2L1410.7 246.8L1415.5 248.3L1420.2 249.8L1425.0 251.3L1430.3 252.6L1435.7 252.1L1441.0 251.3L1446.5 250.9L1452.0 251.1L1457.4 251.9L1462.6 253.5L1468.0 254.7L1473.4 255.7L1478.8 256.3L1484.3 256.5L1489.8 256.5L1495.3 256.3L1500.7 256.0L1506.2 255.8L1511.7 255.6L1517.2 255.2L1522.6 254.8L1528.1 254.6L1533.6 254.6L1539.1 254.6L1544.6 254.7L1549.4 256.5L1548.4 264.7L1545.9 271.5L1542.4 277.9L1537.9 283.7L1532.8 288.8L1527.1 293.4L1521.1 297.4L1514.7 300.9L1508.2 304.1L1501.5 306.9L1494.8 309.6L1488.0 312.2L1481.2 314.9L1474.4 317.5L1467.6 320.0L1460.7 322.3L1453.7 324.6L1446.8 326.7L1439.7 328.6L1432.7 330.4L1425.6 332.2L1418.5 333.9L1411.4 335.4L1404.3 336.8L1397.1 338.1L1389.9 339.3L1382.7 340.3L1375.5 341.3L1368.4 342.8L1361.4 344.8L1354.5 347.0L1347.5 349.4L1340.7 351.7L1333.8 354.1L1327.0 356.7L1320.3 359.6L1313.8 362.7L1307.6 366.6L1302.3 371.6L1298.4 376.3L1295.0 381.3L1292.2 386.7L1289.9 392.3L1287.7 398.0L1285.7 403.8L1283.8 409.6L1281.9 415.3L1280.0 421.1L1278.7 427.1L1277.8 433.1L1276.9 439.1L1276.2 445.2L1275.4 451.3L1274.7 457.3L1274.0 463.4L1273.4 469.4L1272.7 475.5L1272.0 481.6L1271.2 487.6L1270.5 493.7L1269.7 499.7L1268.9 505.8L1268.2 511.8L1267.4 517.9L1266.6 523.9L1265.9 530.0L1265.2 536.0L1264.5 542.1L1264.0 548.2L1263.5 554.3L1263.2 560.4L1262.8 566.4L1262.2 572.5L1261.5 578.6L1260.8 584.6L1260.1 590.7L1259.4 596.8L1258.8 602.8L1258.1 608.9L1257.4 614.9L1256.7 621.0L1255.9 627.0L1255.1 633.1L1254.2 639.1L1253.2 645.1L1252.0 651.1L1250.3 657.0L1246.2 660.8L1242.5 657.0L1240.3 651.9L1238.5 646.7L1236.8 641.5L1235.3 636.2L1233.8 630.9L1232.4 625.5L1231.1 620.2L1229.8 614.8L1228.5 609.4L1227.3 604.1L1226.1 598.7L1224.8 593.3L1223.4 588.0L1221.8 582.7L1220.1 577.5L1218.6 572.1L1217.1 566.8L1215.5 561.6L1213.8 556.4L1211.9 551.2L1210.0 546.0L1208.0 540.9" stroke="#ffff00" stroke-width="2.45" fill="none" stroke-linejoin="round" stroke-linecap="round" />
<path d="M1208.0 541.0L1205.9 536.1L1203.7 531.2L1201.5 526.3L1199.3 521.5L1196.9 516.7L1194.2 512.1L1191.4 507.6L1188.5 503.1L1185.6 498.6L1182.4 494.3L1178.9 490.3L1175.2 486.4L1171.3 482.8L1167.1 479.4L1162.8 476.3L1158.4 473.2L1153.9 470.4L1149.2 467.7L1144.5 465.2L1139.6 462.9L1134.6 460.8L1129.7 458.7L1124.7 456.7L1119.7 454.9L1114.6 453.3L1109.4 451.8L1104.2 450.4L1099.1 449.3L1093.8 448.6L1088.4 448.5L1083.1 448.2L1077.8 448.0L1072.5 448.2L1067.2 448.6L1061.9 449.4L1056.6 450.7L1051.4 452.1L1046.2 453.4L1041.0 454.7L1035.8 455.9L1030.5 457.1L1025.2 458.1L1019.9 459.1L1014.6 460.0L1009.3 460.8L1003.9 461.5L998.6 462.2L993.2 462.9L987.9 463.5L982.5 464.0L977.2 464.5L971.8 464.9L966.4 465.3L961.0 465.7L955.7 466.0L950.3 466.3L944.9 466.6L939.5 467.0L934.3 468.3L929.1 469.5L923.7 469.9L918.4 469.5L913.0 469.1L907.6 469.2L902.3 469.5L897.0 470.4L891.9 472.1L887.4 475.0L883.4 478.6L879.8 482.6L876.7 487.0L873.9 491.6L871.6 496.5L869.8 501.6L868.4 506.8L867.2 512.0L866.3 517.3L864.4 524.0L866.4 500.0L867.6 494.3L869.0 488.6L870.7 482.9L872.4 477.3L874.2 471.7L876.0 466.2L878.2 460.7L880.6 455.3L883.4 450.2L886.8 445.4L890.7 441.0L895.1 437.1L899.8 433.7L904.7 430.5L909.7 427.3L914.8 424.4L920.0 421.8L925.3 419.2L930.6 416.7L936.0 414.4L941.5 412.3L947.1 410.5L952.7 408.9L958.4 407.5L964.1 406.2L969.9 405.0L975.6 403.9L981.4 402.8L987.2 401.9L993.0 401.1L998.9 400.5L1004.7 400.1L1010.6 399.8L1016.5 399.6L1022.3 399.4L1028.1 398.3L1033.7 396.8L1039.4 395.1L1045.0 393.4L1051.3 393.9L1057.5 395.0L1063.7 396.2L1070.1 397.0L1076.4 397.3L1082.8 397.4L1089.1 397.3L1095.5 397.2L1101.8 397.0L1108.2 396.9L1114.5 396.7L1120.9 396.5L1127.2 396.3L1133.6 396.1L1139.9 395.8L1146.3 395.5L1152.6 395.1L1159.0 394.6L1165.3 394.2L1171.6 393.7L1178.0 393.2L1184.3 392.7L1190.6 392.2L1197.0 391.6L1203.2 390.7L1209.4 389.3L1215.5 387.3L1220.9 384.1L1225.7 379.9L1228.8 374.8L1231.6 369.4L1233.7 363.7L1235.3 357.9L1236.8 352.1L1238.1 346.2L1239.3 340.2L1240.4 334.3L1241.4 328.4L1242.5 322.4L1243.5 316.4L1244.4 310.5L1245.4 304.5L1246.2 298.5L1247.0 292.6L1248.1 286.6L1249.3 280.7L1250.5 274.8L1251.4 268.8L1252.1 262.8L1252.6 256.8L1253.1 250.8L1253.6 244.7L1254.1 238.7L1254.6 232.7L1255.1 226.7L1255.6 220.7L1256.1 214.7L1256.7 208.6L1257.3 202.6L1257.9 196.6L1258.5 190.6L1259.0 184.6L1259.4 178.6L1259.9 172.5L1260.5 166.5L1261.1 160.5L1261.8 154.5L1262.5 148.5L1263.0 142.5L1263.6 136.6L1264.2 130.6L1264.9 124.7L1265.6 118.7L1266.4 112.8L1267.4 106.9L1268.5 101.0L1270.0 95.2L1273.7 90.8L1277.9 93.4L1280.0 98.0L1281.5 102.7L1282.8 107.6L1284.0 112.4L1285.2 117.3L1286.5 122.2L1287.8 127.0L1289.2 131.8L1290.6 136.6L1292.0 141.5L1293.1 146.4L1294.1 151.3L1295.1 156.2L1296.5 161.0L1298.2 165.7L1300.0 170.4L1301.7 175.1L1303.6 179.8L1305.5 184.4L1307.6 189.0L1309.9 193.5L1312.2 197.9L1314.7 202.3L1317.3 206.6L1320.3 210.6L1323.5 214.5L1326.9 218.2L1330.5 221.6L1334.5 224.7L1338.6 227.5L1342.9 230.1L1347.4 232.3L1352.0 234.3L1356.8 235.7L1361.6 236.8L1366.5 237.9L1371.4 238.8L1376.4 239.5L1381.4 240.1L1386.4 240.7L1391.3 241.6L1396.2 242.5L1401.1 243.7L1405.9 245.2L1410.6 246.8L1415.4 248.3L1420.2 249.8L1425.0 251.3L1430.3 252.5L1435.7 252.0L1441.0 251.1L1446.5 250.7L1452.0 250.8L1457.4 251.6L1462.6 253.2L1468.0 254.5L1473.3 255.5L1478.8 256.1L1484.3 256.3L1489.7 256.3L1495.2 256.1L1500.7 255.8L1506.2 255.5L1511.6 255.3L1517.1 254.9L1522.6 254.5L1528.1 254.3L1533.5 254.2L1539.0 254.3L1544.5 254.4L1549.3 256.3L1548.2 264.2L1545.7 271.1L1542.1 277.5L1537.7 283.3L1532.6 288.5L1526.9 293.1L1520.9 297.3L1514.6 300.9L1508.1 304.1L1501.4 307.1L1494.7 309.9L1487.9 312.6L1481.1 315.2L1474.3 317.9L1467.4 320.4L1460.5 322.8L1453.5 325.1L1446.5 327.2L1439.5 329.1L1432.4 330.9L1425.3 332.7L1418.2 334.4L1411.1 336.0L1403.9 337.4L1396.7 338.7L1389.5 339.8L1382.2 340.7L1375.0 341.8L1367.8 343.3L1360.8 345.3L1353.9 347.6L1346.9 349.9L1340.0 352.3L1333.2 354.8L1326.4 357.5L1319.7 360.4L1313.1 363.6L1306.9 367.4L1301.5 372.3L1297.5 377.0L1294.1 382.0L1291.2 387.4L1288.8 393.0L1286.5 398.6L1284.5 404.4L1282.5 410.2L1280.6 416.0L1278.6 421.8L1277.5 427.8L1276.5 433.8L1275.7 439.9L1274.9 445.9L1274.2 452.0L1273.5 458.1L1272.8 464.2L1272.1 470.2L1271.4 476.3L1270.7 482.4L1269.9 488.5L1269.2 494.5L1268.4 500.6L1267.6 506.7L1266.8 512.7L1266.1 518.8L1265.3 524.9L1264.6 530.9L1263.9 537.0L1263.2 543.1L1262.7 549.2L1262.3 555.3L1262.0 561.4L1261.6 567.5L1261.0 573.6L1260.3 579.7L1259.6 585.7L1258.9 591.8L1258.2 597.9L1257.6 604.0L1256.9 610.0L1256.2 616.1L1255.5 622.2L1254.7 628.2L1253.9 634.3L1253.0 640.4L1252.0 646.4L1250.9 652.4L1249.2 658.3L1244.9 661.9L1241.3 658.3L1239.0 653.4L1237.2 648.3L1235.5 643.2L1234.0 638.0L1232.6 632.8L1231.2 627.6L1229.9 622.4L1228.6 617.2L1227.4 611.9L1226.2 606.6L1225.1 601.4L1223.9 596.1L1222.5 590.9L1221.0 585.8L1219.4 580.6L1217.9 575.4L1216.5 570.2L1215.0 565.1L1213.4 560.0L1211.6 554.9L1209.8 549.8L1208.0 544.8" stroke="#808000" stroke-width="2.45" fill="none" stroke-linejoin="round" stroke-linecap="round" />
<path d="M1208.0 545.0L1206.0 540.0L1203.9 535.0L1201.8 530.0L1199.7 525.1L1197.4 520.3L1194.8 515.5L1192.1 510.9L1189.3 506.2L1186.5 501.7L1183.4 497.3L1180.0 493.1L1176.4 489.1L1172.5 485.4L1168.4 481.9L1164.1 478.6L1159.7 475.5L1155.2 472.5L1150.6 469.7L1145.8 467.1L1141.0 464.8L1136.0 462.6L1131.1 460.4L1126.1 458.3L1121.1 456.4L1116.0 454.7L1110.8 453.1L1105.7 451.5L1100.4 450.2L1095.1 449.4L1089.7 449.1L1084.4 448.7L1079.0 448.3L1073.7 448.3L1068.3 448.6L1062.9 449.3L1057.7 450.5L1052.5 452.0L1047.2 453.4L1042.0 454.7L1036.7 456.0L1031.5 457.2L1026.2 458.3L1020.8 459.3L1015.5 460.1L1010.2 460.9L1004.8 461.7L999.4 462.4L994.1 463.1L988.7 463.7L983.3 464.2L977.9 464.7L972.5 465.2L967.1 465.6L961.7 465.9L956.3 466.2L950.9 466.5L945.5 466.8L940.1 467.2L934.9 468.5L929.7 469.8L924.3 470.3L918.9 469.8L913.5 469.4L908.1 469.3L902.7 469.6L897.4 470.4L892.3 472.0L887.7 474.9L883.6 478.5L880.0 482.5L876.8 486.9L874.0 491.5L871.7 496.4L869.9 501.5L868.4 506.7L867.3 512.0L866.3 517.3L864.4 519.0L866.5 500.0L867.7 494.3L869.2 488.7L870.8 483.1L872.6 477.6L874.3 472.1L876.2 466.6L878.3 461.2L880.6 455.8L883.4 450.8L886.7 446.0L890.5 441.6L894.8 437.7L899.4 434.3L904.3 431.1L909.2 427.9L914.2 425.1L919.4 422.5L924.6 420.0L929.9 417.5L935.3 415.3L940.7 413.2L946.2 411.4L951.8 409.9L957.4 408.5L963.1 407.3L968.8 406.1L974.5 405.0L980.2 404.0L985.9 403.1L991.7 402.3L997.5 401.7L1003.2 401.3L1009.0 400.9L1014.8 400.8L1020.6 400.5L1026.3 399.4L1031.9 397.9L1037.4 396.2L1043.0 394.4L1049.3 394.9L1055.5 396.1L1061.8 397.4L1068.1 398.2L1074.4 398.6L1080.8 398.6L1087.2 398.4L1093.5 398.3L1099.9 398.1L1106.3 398.0L1112.6 397.8L1119.0 397.6L1125.4 397.3L1131.7 397.1L1138.1 396.8L1144.5 396.4L1150.8 396.0L1157.2 395.5L1163.5 395.1L1169.9 394.6L1176.2 394.1L1182.6 393.6L1188.9 393.0L1195.3 392.5L1201.6 391.5L1207.8 390.1L1213.8 388.1L1219.2 384.8L1224.0 380.6L1227.1 375.4L1229.8 370.1L1231.9 364.4L1233.6 358.6L1235.0 352.7L1236.3 346.8L1237.5 340.9L1238.6 335.0L1239.6 329.0L1240.7 323.1L1241.7 317.1L1242.7 311.2L1243.6 305.2L1244.4 299.3L1245.3 293.3L1246.3 287.3L1247.6 281.4L1248.8 275.5L1249.7 269.6L1250.4 263.6L1250.9 257.6L1251.4 251.5L1251.9 245.5L1252.4 239.5L1252.9 233.5L1253.4 227.5L1253.9 221.5L1254.4 215.4L1255.0 209.4L1255.6 203.4L1256.2 197.4L1256.8 191.4L1257.3 185.4L1257.7 179.4L1258.1 173.4L1258.7 167.4L1259.4 161.4L1260.0 155.4L1260.7 149.4L1261.2 143.4L1261.8 137.4L1262.5 131.4L1263.2 125.4L1264.0 119.5L1264.8 113.5L1265.8 107.6L1266.9 101.7L1268.6 96.0L1272.4 91.5L1276.5 94.2L1278.6 98.7L1280.2 103.5L1281.5 108.4L1282.7 113.3L1283.9 118.2L1285.2 123.0L1286.5 127.9L1287.9 132.7L1289.3 137.6L1290.7 142.4L1291.8 147.3L1292.8 152.3L1293.8 157.2L1295.2 162.1L1296.9 166.8L1298.6 171.5L1300.4 176.2L1302.3 180.9L1304.3 185.6L1306.4 190.1L1308.7 194.6L1311.1 199.1L1313.6 203.5L1316.2 207.7L1319.2 211.8L1322.5 215.6L1326.0 219.3L1329.7 222.7L1333.7 225.7L1337.9 228.5L1342.3 231.0L1346.8 233.2L1351.4 235.1L1356.3 236.4L1361.2 237.4L1366.1 238.4L1371.1 239.2L1376.1 239.9L1381.1 240.4L1386.1 241.0L1391.1 241.7L1396.1 242.6L1401.0 243.7L1405.8 245.2L1410.6 246.8L1415.4 248.3L1420.2 249.8L1425.0 251.3L1430.3 252.5L1435.7 252.0L1441.0 251.0L1446.5 250.6L1452.0 250.7L1457.4 251.5L1462.6 253.1L1467.9 254.4L1473.3 255.4L1478.8 256.0L1484.2 256.2L1489.7 256.2L1495.2 255.9L1500.7 255.6L1506.1 255.4L1511.6 255.1L1517.1 254.7L1522.5 254.3L1528.0 254.1L1533.5 254.0L1539.0 254.1L1544.5 254.2L1549.3 256.2L1548.0 263.8L1545.5 270.7L1541.9 277.1L1537.5 282.9L1532.4 288.2L1526.8 292.9L1520.8 297.1L1514.4 300.8L1507.9 304.2L1501.3 307.3L1494.5 310.2L1487.7 312.9L1480.9 315.6L1474.1 318.3L1467.2 320.9L1460.3 323.3L1453.3 325.6L1446.3 327.7L1439.2 329.6L1432.1 331.5L1425.0 333.2L1417.9 334.9L1410.7 336.5L1403.5 337.9L1396.3 339.2L1389.0 340.3L1381.7 341.2L1374.5 342.2L1367.3 343.7L1360.3 345.8L1353.3 348.1L1346.3 350.5L1339.4 352.9L1332.5 355.4L1325.7 358.2L1319.1 361.3L1312.4 364.4L1306.2 368.2L1300.7 373.1L1296.7 377.7L1293.1 382.7L1290.2 388.1L1287.7 393.7L1285.4 399.3L1283.3 405.0L1281.3 410.8L1279.3 416.7L1277.3 422.4L1276.2 428.5L1275.3 434.5L1274.4 440.6L1273.7 446.7L1273.0 452.8L1272.2 458.9L1271.5 464.9L1270.8 471.0L1270.1 477.1L1269.4 483.2L1268.6 489.3L1267.9 495.4L1267.1 501.5L1266.3 507.5L1265.5 513.6L1264.8 519.7L1264.0 525.8L1263.3 531.9L1262.5 538.0L1261.9 544.1L1261.4 550.2L1261.0 556.3L1260.7 562.4L1260.4 568.5L1259.8 574.6L1259.1 580.7L1258.4 586.8L1257.7 592.9L1257.0 599.0L1256.3 605.1L1255.7 611.2L1255.0 617.3L1254.2 623.4L1253.5 629.4L1252.7 635.5L1251.8 641.6L1250.9 647.7L1249.7 653.7L1248.1 659.6L1243.6 663.0L1240.0 659.6L1237.8 654.8L1235.9 649.9L1234.3 644.9L1232.7 639.9L1231.3 634.8L1230.0 629.7L1228.8 624.6L1227.5 619.5L1226.3 614.4L1225.2 609.2L1224.1 604.1L1222.9 599.0L1221.7 593.9L1220.2 588.8L1218.6 583.8L1217.2 578.7L1215.9 573.6L1214.6 568.6L1213.0 563.5L1211.3 558.6L1209.7 553.6L1208.0 548.6" stroke="#000080" stroke-width="2.45" fill="none" stroke-linejoin="round" stroke-linecap="round" />
<path d="M1208.0 549.0L1206.0 543.9L1204.0 538.9L1202.1 533.8L1200.1 528.7L1197.9 523.8L1195.4 519.0L1192.8 514.2L1190.2 509.4L1187.5 504.7L1184.4 500.2L1181.1 495.9L1177.5 491.8L1173.7 488.0L1169.6 484.4L1165.4 481.0L1161.0 477.7L1156.6 474.6L1152.0 471.8L1147.2 469.1L1142.4 466.7L1137.4 464.4L1132.5 462.1L1127.5 459.9L1122.5 457.8L1117.4 456.0L1112.2 454.3L1107.1 452.6L1101.8 451.1L1096.5 450.2L1091.1 449.8L1085.7 449.2L1080.3 448.7L1074.8 448.4L1069.4 448.6L1064.0 449.2L1058.7 450.4L1053.5 451.9L1048.3 453.4L1043.0 454.7L1037.7 456.0L1032.4 457.3L1027.1 458.4L1021.8 459.4L1016.4 460.3L1011.0 461.1L1005.7 461.8L1000.3 462.6L994.9 463.2L989.5 463.9L984.1 464.4L978.7 464.9L973.2 465.4L967.8 465.8L962.4 466.2L957.0 466.5L951.6 466.7L946.1 467.0L940.7 467.4L935.5 468.8L930.2 470.2L924.8 470.6L919.4 470.0L914.0 469.6L908.6 469.4L903.2 469.6L897.8 470.4L892.6 472.0L888.0 474.8L883.9 478.4L880.2 482.4L877.0 486.7L874.1 491.3L871.8 496.2L869.9 501.4L868.4 506.6L867.3 511.9L864.4 514.0L866.6 500.0L867.8 494.4L869.3 488.8L871.0 483.3L872.7 477.9L874.4 472.4L876.3 466.9L878.3 461.6L880.6 456.3L883.4 451.3L886.6 446.5L890.3 442.2L894.6 438.3L899.1 434.8L903.9 431.6L908.7 428.5L913.7 425.6L918.9 423.1L924.1 420.6L929.3 418.3L934.6 416.0L940.0 414.0L945.5 412.3L951.0 410.8L956.6 409.5L962.2 408.3L967.8 407.1L973.5 406.0L979.1 405.0L984.8 404.1L990.5 403.3L996.2 402.7L1001.9 402.3L1007.7 401.9L1013.4 401.8L1019.1 401.5L1024.8 400.3L1030.3 398.8L1035.8 397.1L1041.2 395.2L1047.5 395.8L1053.8 397.1L1060.0 398.5L1066.3 399.3L1072.7 399.7L1079.1 399.7L1085.5 399.5L1091.9 399.3L1098.2 399.1L1104.6 398.9L1111.0 398.7L1117.4 398.4L1123.7 398.2L1130.1 397.9L1136.5 397.6L1142.9 397.2L1149.2 396.8L1155.6 396.3L1162.0 395.9L1168.3 395.4L1174.7 394.8L1181.0 394.3L1187.4 393.8L1193.8 393.2L1200.1 392.2L1206.3 390.8L1212.3 388.7L1217.7 385.5L1222.5 381.2L1225.6 376.0L1228.3 370.6L1230.4 365.0L1232.1 359.2L1233.5 353.3L1234.7 347.4L1235.9 341.5L1237.0 335.6L1238.1 329.6L1239.1 323.7L1240.1 317.8L1241.1 311.8L1242.0 305.9L1242.9 299.9L1243.7 293.9L1244.7 288.0L1246.1 282.1L1247.3 276.2L1248.3 270.2L1248.9 264.2L1249.4 258.2L1249.9 252.2L1250.4 246.2L1250.9 240.2L1251.4 234.2L1251.9 228.2L1252.4 222.2L1252.9 216.2L1253.5 210.2L1254.1 204.2L1254.7 198.2L1255.3 192.2L1255.8 186.1L1256.2 180.1L1256.6 174.1L1257.1 168.1L1257.8 162.1L1258.4 156.1L1259.1 150.1L1259.6 144.1L1260.3 138.1L1260.9 132.1L1261.7 126.1L1262.5 120.2L1263.4 114.2L1264.4 108.3L1265.6 102.3L1267.4 96.6L1271.2 92.1L1275.3 94.8L1277.5 99.4L1279.0 104.2L1280.3 109.1L1281.6 114.0L1282.8 118.9L1284.0 123.8L1285.3 128.7L1286.7 133.5L1288.2 138.4L1289.5 143.3L1290.7 148.2L1291.6 153.2L1292.6 158.1L1294.0 163.0L1295.7 167.8L1297.5 172.5L1299.3 177.2L1301.2 181.9L1303.2 186.5L1305.4 191.1L1307.7 195.6L1310.1 200.1L1312.6 204.5L1315.3 208.7L1318.3 212.8L1321.7 216.6L1325.2 220.2L1328.9 223.6L1333.0 226.6L1337.3 229.3L1341.7 231.8L1346.2 234.0L1351.0 235.8L1355.9 237.0L1360.8 237.9L1365.8 238.8L1370.8 239.6L1375.8 240.2L1380.9 240.7L1385.9 241.2L1390.9 241.8L1395.9 242.6L1400.9 243.8L1405.7 245.3L1410.5 246.8L1415.3 248.3L1420.2 249.8L1425.0 251.3L1430.3 252.5L1435.7 252.0L1441.0 251.0L1446.5 250.5L1452.0 250.6L1457.4 251.5L1462.6 253.0L1467.9 254.4L1473.3 255.4L1478.8 255.9L1484.2 256.2L1489.7 256.2L1495.2 255.9L1500.7 255.6L1506.1 255.3L1511.6 255.1L1517.1 254.7L1522.5 254.2L1528.0 254.0L1533.5 254.0L1539.0 254.0L1544.4 254.1L1549.3 256.2L1547.9 263.4L1545.3 270.3L1541.7 276.7L1537.3 282.6L1532.2 287.9L1526.6 292.7L1520.6 297.0L1514.3 300.8L1507.8 304.2L1501.2 307.5L1494.5 310.4L1487.6 313.1L1480.8 315.9L1474.0 318.7L1467.1 321.3L1460.2 323.7L1453.2 326.0L1446.1 328.2L1439.0 330.1L1431.9 331.9L1424.7 333.7L1417.6 335.4L1410.4 337.0L1403.1 338.4L1395.9 339.6L1388.6 340.8L1381.3 341.6L1374.0 342.6L1366.8 344.2L1359.8 346.3L1352.8 348.6L1345.8 351.0L1338.9 353.4L1332.0 356.0L1325.2 358.8L1318.5 362.0L1311.8 365.1L1305.5 368.8L1300.0 373.7L1295.9 378.3L1292.3 383.3L1289.4 388.7L1286.8 394.2L1284.4 399.9L1282.2 405.6L1280.2 411.4L1278.2 417.2L1276.2 423.0L1275.1 429.1L1274.2 435.1L1273.4 441.2L1272.6 447.3L1271.9 453.4L1271.1 459.5L1270.4 465.6L1269.7 471.7L1269.0 477.8L1268.3 483.9L1267.5 490.0L1266.7 496.1L1265.9 502.2L1265.2 508.3L1264.4 514.4L1263.6 520.5L1262.8 526.6L1262.1 532.7L1261.4 538.8L1260.8 544.9L1260.3 551.0L1259.9 557.2L1259.6 563.3L1259.3 569.4L1258.8 575.6L1258.1 581.7L1257.4 587.8L1256.6 593.9L1255.9 600.0L1255.3 606.1L1254.6 612.2L1253.9 618.3L1253.2 624.4L1252.4 630.5L1251.7 636.6L1250.8 642.7L1249.9 648.8L1248.7 654.8L1247.1 660.7L1242.5 664.0L1238.9 660.7L1236.6 656.1L1234.8 651.3L1233.1 646.4L1231.6 641.5L1230.2 636.5L1229.0 631.5L1227.7 626.5L1226.6 621.5L1225.4 616.5L1224.3 611.5L1223.2 606.5L1222.1 601.4L1220.9 596.4L1219.5 591.5L1218.0 586.6L1216.6 581.6L1215.4 576.6L1214.1 571.6L1212.7 566.7L1211.1 561.8L1209.5 556.9L1208.0 552.0" stroke="#800080" stroke-width="2.45" fill="none" stroke-linejoin="round" stroke-linecap="round" />
</svg>
</body></html>
